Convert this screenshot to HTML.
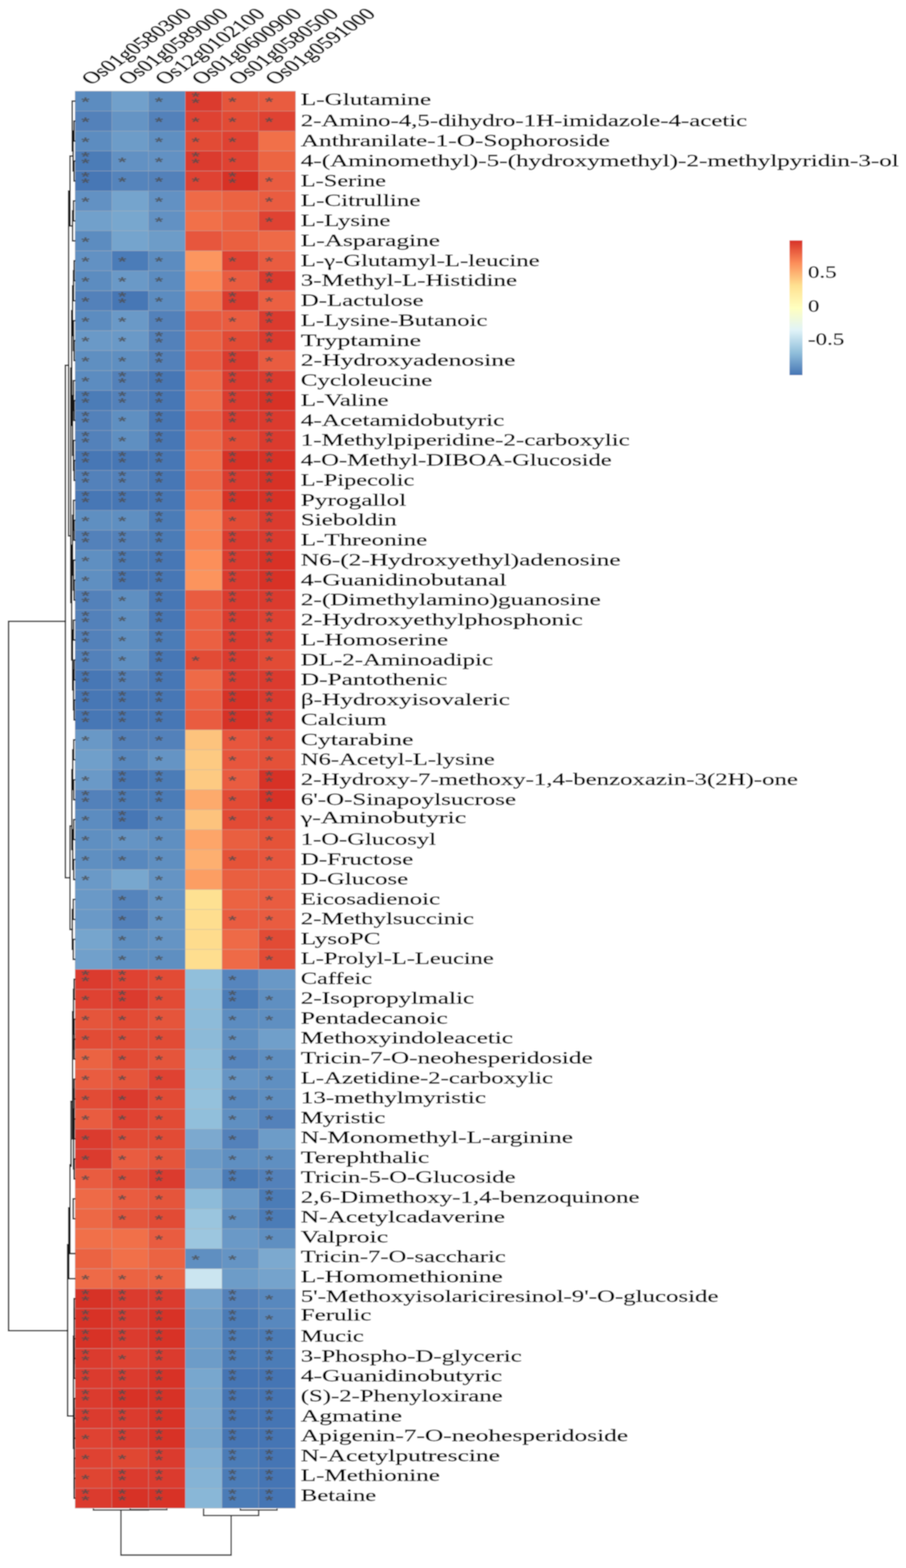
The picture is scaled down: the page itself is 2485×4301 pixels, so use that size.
<!DOCTYPE html>
<html lang="en"><head><meta charset="utf-8"><title>Correlation heatmap</title>
<style>html,body{margin:0;padding:0;background:#fff;width:2485px;height:4301px}svg{display:block}text{font-family:"Liberation Serif",serif;fill:#000;stroke:#000;stroke-width:0.8px}.st text{font-family:"Liberation Sans",sans-serif;font-weight:bold;fill:#4d4d4d;stroke:none;text-anchor:middle}.cl text{stroke-width:1.3px}.d{stroke:#303030;stroke-width:3.8;fill:none;stroke-linecap:square}</style></head><body>
<svg width="2485" height="4301" viewBox="0 0 2485 4301">
<rect width="2485" height="4301" fill="#fff"/>
<defs><filter id="bl" x="0" y="0" width="2485" height="4301" filterUnits="userSpaceOnUse"><feGaussianBlur stdDeviation="1.6"/></filter></defs>
<g filter="url(#bl)">
<rect width="2485" height="4301" fill="#fff"/>
<g shape-rendering="crispEdges">
<rect x="205.8" y="250.0" width="101.0" height="55.0" fill="#5c8cc0"/>
<rect x="306.6" y="250.0" width="101.0" height="55.0" fill="#71a0cb"/>
<rect x="407.3" y="250.0" width="101.0" height="55.0" fill="#5c8cc0"/>
<rect x="508.1" y="250.0" width="101.0" height="55.0" fill="#db3b2d"/>
<rect x="608.8" y="250.0" width="101.0" height="55.0" fill="#e5543a"/>
<rect x="709.5" y="250.0" width="101.0" height="55.0" fill="#e95c3f"/>
<rect x="205.8" y="304.7" width="101.0" height="55.0" fill="#5281ba"/>
<rect x="306.6" y="304.7" width="101.0" height="55.0" fill="#6594c4"/>
<rect x="407.3" y="304.7" width="101.0" height="55.0" fill="#5281ba"/>
<rect x="508.1" y="304.7" width="101.0" height="55.0" fill="#df4331"/>
<rect x="608.8" y="304.7" width="101.0" height="55.0" fill="#e24c36"/>
<rect x="709.5" y="304.7" width="101.0" height="55.0" fill="#df4331"/>
<rect x="205.8" y="359.5" width="101.0" height="55.0" fill="#5c8cc0"/>
<rect x="306.6" y="359.5" width="101.0" height="55.0" fill="#6d9cc8"/>
<rect x="407.3" y="359.5" width="101.0" height="55.0" fill="#5f8fc1"/>
<rect x="508.1" y="359.5" width="101.0" height="55.0" fill="#e24c36"/>
<rect x="608.8" y="359.5" width="101.0" height="55.0" fill="#df4331"/>
<rect x="709.5" y="359.5" width="101.0" height="55.0" fill="#f1704a"/>
<rect x="205.8" y="414.2" width="101.0" height="55.0" fill="#4b7bb7"/>
<rect x="306.6" y="414.2" width="101.0" height="55.0" fill="#6291c3"/>
<rect x="407.3" y="414.2" width="101.0" height="55.0" fill="#6291c3"/>
<rect x="508.1" y="414.2" width="101.0" height="55.0" fill="#db3b2d"/>
<rect x="608.8" y="414.2" width="101.0" height="55.0" fill="#df4331"/>
<rect x="709.5" y="414.2" width="101.0" height="55.0" fill="#ec6543"/>
<rect x="205.8" y="469.0" width="101.0" height="55.0" fill="#4777b5"/>
<rect x="306.6" y="469.0" width="101.0" height="55.0" fill="#5484bc"/>
<rect x="407.3" y="469.0" width="101.0" height="55.0" fill="#5281ba"/>
<rect x="508.1" y="469.0" width="101.0" height="55.0" fill="#df4331"/>
<rect x="608.8" y="469.0" width="101.0" height="55.0" fill="#d83328"/>
<rect x="709.5" y="469.0" width="101.0" height="55.0" fill="#e95c3f"/>
<rect x="205.8" y="523.7" width="101.0" height="55.0" fill="#6291c3"/>
<rect x="306.6" y="523.7" width="101.0" height="55.0" fill="#75a4cd"/>
<rect x="407.3" y="523.7" width="101.0" height="55.0" fill="#6291c3"/>
<rect x="508.1" y="523.7" width="101.0" height="55.0" fill="#ee6a46"/>
<rect x="608.8" y="523.7" width="101.0" height="55.0" fill="#eb6342"/>
<rect x="709.5" y="523.7" width="101.0" height="55.0" fill="#e95c3f"/>
<rect x="205.8" y="578.5" width="101.0" height="55.0" fill="#71a0cb"/>
<rect x="306.6" y="578.5" width="101.0" height="55.0" fill="#78a7ce"/>
<rect x="407.3" y="578.5" width="101.0" height="55.0" fill="#6291c3"/>
<rect x="508.1" y="578.5" width="101.0" height="55.0" fill="#f1704a"/>
<rect x="608.8" y="578.5" width="101.0" height="55.0" fill="#eb6342"/>
<rect x="709.5" y="578.5" width="101.0" height="55.0" fill="#df4331"/>
<rect x="205.8" y="633.2" width="101.0" height="55.0" fill="#5c8cc0"/>
<rect x="306.6" y="633.2" width="101.0" height="55.0" fill="#75a4cd"/>
<rect x="407.3" y="633.2" width="101.0" height="55.0" fill="#6d9cc8"/>
<rect x="508.1" y="633.2" width="101.0" height="55.0" fill="#e7573c"/>
<rect x="608.8" y="633.2" width="101.0" height="55.0" fill="#ea6041"/>
<rect x="709.5" y="633.2" width="101.0" height="55.0" fill="#ee6a46"/>
<rect x="205.8" y="688.0" width="101.0" height="55.0" fill="#6291c3"/>
<rect x="306.6" y="688.0" width="101.0" height="55.0" fill="#4c7cb8"/>
<rect x="407.3" y="688.0" width="101.0" height="55.0" fill="#5c8cc0"/>
<rect x="508.1" y="688.0" width="101.0" height="55.0" fill="#fc965f"/>
<rect x="608.8" y="688.0" width="101.0" height="55.0" fill="#df4331"/>
<rect x="709.5" y="688.0" width="101.0" height="55.0" fill="#e95c3f"/>
<rect x="205.8" y="742.7" width="101.0" height="55.0" fill="#5c8cc0"/>
<rect x="306.6" y="742.7" width="101.0" height="55.0" fill="#6a99c7"/>
<rect x="407.3" y="742.7" width="101.0" height="55.0" fill="#5c8cc0"/>
<rect x="508.1" y="742.7" width="101.0" height="55.0" fill="#fa8957"/>
<rect x="608.8" y="742.7" width="101.0" height="55.0" fill="#e95c3f"/>
<rect x="709.5" y="742.7" width="101.0" height="55.0" fill="#db3b2d"/>
<rect x="205.8" y="797.5" width="101.0" height="55.0" fill="#5281ba"/>
<rect x="306.6" y="797.5" width="101.0" height="55.0" fill="#4777b5"/>
<rect x="407.3" y="797.5" width="101.0" height="55.0" fill="#5c8cc0"/>
<rect x="508.1" y="797.5" width="101.0" height="55.0" fill="#f2744b"/>
<rect x="608.8" y="797.5" width="101.0" height="55.0" fill="#db3b2d"/>
<rect x="709.5" y="797.5" width="101.0" height="55.0" fill="#eb6142"/>
<rect x="205.8" y="852.2" width="101.0" height="55.0" fill="#5c8cc0"/>
<rect x="306.6" y="852.2" width="101.0" height="55.0" fill="#6a99c7"/>
<rect x="407.3" y="852.2" width="101.0" height="55.0" fill="#5281ba"/>
<rect x="508.1" y="852.2" width="101.0" height="55.0" fill="#e95c3f"/>
<rect x="608.8" y="852.2" width="101.0" height="55.0" fill="#e95c3f"/>
<rect x="709.5" y="852.2" width="101.0" height="55.0" fill="#db3b2d"/>
<rect x="205.8" y="907.0" width="101.0" height="55.0" fill="#6a99c7"/>
<rect x="306.6" y="907.0" width="101.0" height="55.0" fill="#6a99c7"/>
<rect x="407.3" y="907.0" width="101.0" height="55.0" fill="#5281ba"/>
<rect x="508.1" y="907.0" width="101.0" height="55.0" fill="#eb6342"/>
<rect x="608.8" y="907.0" width="101.0" height="55.0" fill="#e24c36"/>
<rect x="709.5" y="907.0" width="101.0" height="55.0" fill="#db3b2d"/>
<rect x="205.8" y="961.7" width="101.0" height="55.0" fill="#5f8fc1"/>
<rect x="306.6" y="961.7" width="101.0" height="55.0" fill="#5f8fc1"/>
<rect x="407.3" y="961.7" width="101.0" height="55.0" fill="#5281ba"/>
<rect x="508.1" y="961.7" width="101.0" height="55.0" fill="#e95c3f"/>
<rect x="608.8" y="961.7" width="101.0" height="55.0" fill="#db3b2d"/>
<rect x="709.5" y="961.7" width="101.0" height="55.0" fill="#e95c3f"/>
<rect x="205.8" y="1016.5" width="101.0" height="55.0" fill="#5c8cc0"/>
<rect x="306.6" y="1016.5" width="101.0" height="55.0" fill="#5281ba"/>
<rect x="407.3" y="1016.5" width="101.0" height="55.0" fill="#4777b5"/>
<rect x="508.1" y="1016.5" width="101.0" height="55.0" fill="#ee6a46"/>
<rect x="608.8" y="1016.5" width="101.0" height="55.0" fill="#db3b2d"/>
<rect x="709.5" y="1016.5" width="101.0" height="55.0" fill="#db3b2d"/>
<rect x="205.8" y="1071.2" width="101.0" height="55.0" fill="#4b7bb7"/>
<rect x="306.6" y="1071.2" width="101.0" height="55.0" fill="#5281ba"/>
<rect x="407.3" y="1071.2" width="101.0" height="55.0" fill="#4777b5"/>
<rect x="508.1" y="1071.2" width="101.0" height="55.0" fill="#ef6d48"/>
<rect x="608.8" y="1071.2" width="101.0" height="55.0" fill="#db3b2d"/>
<rect x="709.5" y="1071.2" width="101.0" height="55.0" fill="#d73027"/>
<rect x="205.8" y="1125.9" width="101.0" height="55.0" fill="#5281ba"/>
<rect x="306.6" y="1125.9" width="101.0" height="55.0" fill="#5f8fc1"/>
<rect x="407.3" y="1125.9" width="101.0" height="55.0" fill="#4777b5"/>
<rect x="508.1" y="1125.9" width="101.0" height="55.0" fill="#eb6142"/>
<rect x="608.8" y="1125.9" width="101.0" height="55.0" fill="#db3b2d"/>
<rect x="709.5" y="1125.9" width="101.0" height="55.0" fill="#db3b2d"/>
<rect x="205.8" y="1180.7" width="101.0" height="55.0" fill="#5281ba"/>
<rect x="306.6" y="1180.7" width="101.0" height="55.0" fill="#5f8fc1"/>
<rect x="407.3" y="1180.7" width="101.0" height="55.0" fill="#4777b5"/>
<rect x="508.1" y="1180.7" width="101.0" height="55.0" fill="#ee6a46"/>
<rect x="608.8" y="1180.7" width="101.0" height="55.0" fill="#e24c36"/>
<rect x="709.5" y="1180.7" width="101.0" height="55.0" fill="#db3b2d"/>
<rect x="205.8" y="1235.4" width="101.0" height="55.0" fill="#4777b5"/>
<rect x="306.6" y="1235.4" width="101.0" height="55.0" fill="#4777b5"/>
<rect x="407.3" y="1235.4" width="101.0" height="55.0" fill="#4777b5"/>
<rect x="508.1" y="1235.4" width="101.0" height="55.0" fill="#f1704a"/>
<rect x="608.8" y="1235.4" width="101.0" height="55.0" fill="#d73027"/>
<rect x="709.5" y="1235.4" width="101.0" height="55.0" fill="#d83328"/>
<rect x="205.8" y="1290.2" width="101.0" height="55.0" fill="#5281ba"/>
<rect x="306.6" y="1290.2" width="101.0" height="55.0" fill="#5281ba"/>
<rect x="407.3" y="1290.2" width="101.0" height="55.0" fill="#4777b5"/>
<rect x="508.1" y="1290.2" width="101.0" height="55.0" fill="#ee6a46"/>
<rect x="608.8" y="1290.2" width="101.0" height="55.0" fill="#db3b2d"/>
<rect x="709.5" y="1290.2" width="101.0" height="55.0" fill="#d73027"/>
<rect x="205.8" y="1344.9" width="101.0" height="55.0" fill="#4777b5"/>
<rect x="306.6" y="1344.9" width="101.0" height="55.0" fill="#4777b5"/>
<rect x="407.3" y="1344.9" width="101.0" height="55.0" fill="#4777b5"/>
<rect x="508.1" y="1344.9" width="101.0" height="55.0" fill="#f3754c"/>
<rect x="608.8" y="1344.9" width="101.0" height="55.0" fill="#d83328"/>
<rect x="709.5" y="1344.9" width="101.0" height="55.0" fill="#d83328"/>
<rect x="205.8" y="1399.7" width="101.0" height="55.0" fill="#5f8fc1"/>
<rect x="306.6" y="1399.7" width="101.0" height="55.0" fill="#5f8fc1"/>
<rect x="407.3" y="1399.7" width="101.0" height="55.0" fill="#4b7bb7"/>
<rect x="508.1" y="1399.7" width="101.0" height="55.0" fill="#f88454"/>
<rect x="608.8" y="1399.7" width="101.0" height="55.0" fill="#e24c36"/>
<rect x="709.5" y="1399.7" width="101.0" height="55.0" fill="#db3b2d"/>
<rect x="205.8" y="1454.4" width="101.0" height="55.0" fill="#5281ba"/>
<rect x="306.6" y="1454.4" width="101.0" height="55.0" fill="#5281ba"/>
<rect x="407.3" y="1454.4" width="101.0" height="55.0" fill="#4b7bb7"/>
<rect x="508.1" y="1454.4" width="101.0" height="55.0" fill="#f88253"/>
<rect x="608.8" y="1454.4" width="101.0" height="55.0" fill="#db3b2d"/>
<rect x="709.5" y="1454.4" width="101.0" height="55.0" fill="#db3b2d"/>
<rect x="205.8" y="1509.2" width="101.0" height="55.0" fill="#5f8fc1"/>
<rect x="306.6" y="1509.2" width="101.0" height="55.0" fill="#4b7bb7"/>
<rect x="407.3" y="1509.2" width="101.0" height="55.0" fill="#4777b5"/>
<rect x="508.1" y="1509.2" width="101.0" height="55.0" fill="#fc8f5a"/>
<rect x="608.8" y="1509.2" width="101.0" height="55.0" fill="#db3b2d"/>
<rect x="709.5" y="1509.2" width="101.0" height="55.0" fill="#d83328"/>
<rect x="205.8" y="1563.9" width="101.0" height="55.0" fill="#5f8fc1"/>
<rect x="306.6" y="1563.9" width="101.0" height="55.0" fill="#4777b5"/>
<rect x="407.3" y="1563.9" width="101.0" height="55.0" fill="#4777b5"/>
<rect x="508.1" y="1563.9" width="101.0" height="55.0" fill="#fc945d"/>
<rect x="608.8" y="1563.9" width="101.0" height="55.0" fill="#db3b2d"/>
<rect x="709.5" y="1563.9" width="101.0" height="55.0" fill="#d83328"/>
<rect x="205.8" y="1618.7" width="101.0" height="55.0" fill="#5281ba"/>
<rect x="306.6" y="1618.7" width="101.0" height="55.0" fill="#5f8fc1"/>
<rect x="407.3" y="1618.7" width="101.0" height="55.0" fill="#4777b5"/>
<rect x="508.1" y="1618.7" width="101.0" height="55.0" fill="#e95c3f"/>
<rect x="608.8" y="1618.7" width="101.0" height="55.0" fill="#db3b2d"/>
<rect x="709.5" y="1618.7" width="101.0" height="55.0" fill="#db3b2d"/>
<rect x="205.8" y="1673.4" width="101.0" height="55.0" fill="#5281ba"/>
<rect x="306.6" y="1673.4" width="101.0" height="55.0" fill="#5f8fc1"/>
<rect x="407.3" y="1673.4" width="101.0" height="55.0" fill="#4777b5"/>
<rect x="508.1" y="1673.4" width="101.0" height="55.0" fill="#eb6142"/>
<rect x="608.8" y="1673.4" width="101.0" height="55.0" fill="#db3b2d"/>
<rect x="709.5" y="1673.4" width="101.0" height="55.0" fill="#df4331"/>
<rect x="205.8" y="1728.2" width="101.0" height="55.0" fill="#5281ba"/>
<rect x="306.6" y="1728.2" width="101.0" height="55.0" fill="#5f8fc1"/>
<rect x="407.3" y="1728.2" width="101.0" height="55.0" fill="#4b7bb7"/>
<rect x="508.1" y="1728.2" width="101.0" height="55.0" fill="#eb6142"/>
<rect x="608.8" y="1728.2" width="101.0" height="55.0" fill="#db3b2d"/>
<rect x="709.5" y="1728.2" width="101.0" height="55.0" fill="#df4331"/>
<rect x="205.8" y="1782.9" width="101.0" height="55.0" fill="#5281ba"/>
<rect x="306.6" y="1782.9" width="101.0" height="55.0" fill="#5f8fc1"/>
<rect x="407.3" y="1782.9" width="101.0" height="55.0" fill="#4777b5"/>
<rect x="508.1" y="1782.9" width="101.0" height="55.0" fill="#e24c36"/>
<rect x="608.8" y="1782.9" width="101.0" height="55.0" fill="#db3b2d"/>
<rect x="709.5" y="1782.9" width="101.0" height="55.0" fill="#e24c36"/>
<rect x="205.8" y="1837.6" width="101.0" height="55.0" fill="#4777b5"/>
<rect x="306.6" y="1837.6" width="101.0" height="55.0" fill="#5281ba"/>
<rect x="407.3" y="1837.6" width="101.0" height="55.0" fill="#4777b5"/>
<rect x="508.1" y="1837.6" width="101.0" height="55.0" fill="#ee6a46"/>
<rect x="608.8" y="1837.6" width="101.0" height="55.0" fill="#db3b2d"/>
<rect x="709.5" y="1837.6" width="101.0" height="55.0" fill="#db3b2d"/>
<rect x="205.8" y="1892.4" width="101.0" height="55.0" fill="#4777b5"/>
<rect x="306.6" y="1892.4" width="101.0" height="55.0" fill="#4777b5"/>
<rect x="407.3" y="1892.4" width="101.0" height="55.0" fill="#4777b5"/>
<rect x="508.1" y="1892.4" width="101.0" height="55.0" fill="#eb6142"/>
<rect x="608.8" y="1892.4" width="101.0" height="55.0" fill="#d73027"/>
<rect x="709.5" y="1892.4" width="101.0" height="55.0" fill="#db3b2d"/>
<rect x="205.8" y="1947.1" width="101.0" height="55.0" fill="#4777b5"/>
<rect x="306.6" y="1947.1" width="101.0" height="55.0" fill="#4777b5"/>
<rect x="407.3" y="1947.1" width="101.0" height="55.0" fill="#4777b5"/>
<rect x="508.1" y="1947.1" width="101.0" height="55.0" fill="#e95c3f"/>
<rect x="608.8" y="1947.1" width="101.0" height="55.0" fill="#d73027"/>
<rect x="709.5" y="1947.1" width="101.0" height="55.0" fill="#db3b2d"/>
<rect x="205.8" y="2001.9" width="101.0" height="55.0" fill="#6998c6"/>
<rect x="306.6" y="2001.9" width="101.0" height="55.0" fill="#5281ba"/>
<rect x="407.3" y="2001.9" width="101.0" height="55.0" fill="#5281ba"/>
<rect x="508.1" y="2001.9" width="101.0" height="55.0" fill="#fdc37d"/>
<rect x="608.8" y="2001.9" width="101.0" height="55.0" fill="#e7573c"/>
<rect x="709.5" y="2001.9" width="101.0" height="55.0" fill="#e14834"/>
<rect x="205.8" y="2056.6" width="101.0" height="55.0" fill="#709fca"/>
<rect x="306.6" y="2056.6" width="101.0" height="55.0" fill="#5888be"/>
<rect x="407.3" y="2056.6" width="101.0" height="55.0" fill="#6594c4"/>
<rect x="508.1" y="2056.6" width="101.0" height="55.0" fill="#fdca82"/>
<rect x="608.8" y="2056.6" width="101.0" height="55.0" fill="#e7573c"/>
<rect x="709.5" y="2056.6" width="101.0" height="55.0" fill="#e45139"/>
<rect x="205.8" y="2111.4" width="101.0" height="55.0" fill="#6a99c7"/>
<rect x="306.6" y="2111.4" width="101.0" height="55.0" fill="#4777b5"/>
<rect x="407.3" y="2111.4" width="101.0" height="55.0" fill="#4b7bb7"/>
<rect x="508.1" y="2111.4" width="101.0" height="55.0" fill="#fdca82"/>
<rect x="608.8" y="2111.4" width="101.0" height="55.0" fill="#e95c3f"/>
<rect x="709.5" y="2111.4" width="101.0" height="55.0" fill="#d73027"/>
<rect x="205.8" y="2166.1" width="101.0" height="55.0" fill="#5281ba"/>
<rect x="306.6" y="2166.1" width="101.0" height="55.0" fill="#4b7bb7"/>
<rect x="407.3" y="2166.1" width="101.0" height="55.0" fill="#4b7bb7"/>
<rect x="508.1" y="2166.1" width="101.0" height="55.0" fill="#fdaa6c"/>
<rect x="608.8" y="2166.1" width="101.0" height="55.0" fill="#e24c36"/>
<rect x="709.5" y="2166.1" width="101.0" height="55.0" fill="#d83328"/>
<rect x="205.8" y="2220.9" width="101.0" height="55.0" fill="#5c8cc0"/>
<rect x="306.6" y="2220.9" width="101.0" height="55.0" fill="#4777b5"/>
<rect x="407.3" y="2220.9" width="101.0" height="55.0" fill="#5888be"/>
<rect x="508.1" y="2220.9" width="101.0" height="55.0" fill="#fdc37d"/>
<rect x="608.8" y="2220.9" width="101.0" height="55.0" fill="#e24c36"/>
<rect x="709.5" y="2220.9" width="101.0" height="55.0" fill="#e14834"/>
<rect x="205.8" y="2275.6" width="101.0" height="55.0" fill="#5f8fc1"/>
<rect x="306.6" y="2275.6" width="101.0" height="55.0" fill="#6594c4"/>
<rect x="407.3" y="2275.6" width="101.0" height="55.0" fill="#5f8fc1"/>
<rect x="508.1" y="2275.6" width="101.0" height="55.0" fill="#fda569"/>
<rect x="608.8" y="2275.6" width="101.0" height="55.0" fill="#e95e40"/>
<rect x="709.5" y="2275.6" width="101.0" height="55.0" fill="#e55239"/>
<rect x="205.8" y="2330.4" width="101.0" height="55.0" fill="#5f8fc1"/>
<rect x="306.6" y="2330.4" width="101.0" height="55.0" fill="#5888be"/>
<rect x="407.3" y="2330.4" width="101.0" height="55.0" fill="#5f8fc1"/>
<rect x="508.1" y="2330.4" width="101.0" height="55.0" fill="#fdaf70"/>
<rect x="608.8" y="2330.4" width="101.0" height="55.0" fill="#e55239"/>
<rect x="709.5" y="2330.4" width="101.0" height="55.0" fill="#e7573c"/>
<rect x="205.8" y="2385.1" width="101.0" height="55.0" fill="#6a99c7"/>
<rect x="306.6" y="2385.1" width="101.0" height="55.0" fill="#78a7ce"/>
<rect x="407.3" y="2385.1" width="101.0" height="55.0" fill="#6594c4"/>
<rect x="508.1" y="2385.1" width="101.0" height="55.0" fill="#fc9e64"/>
<rect x="608.8" y="2385.1" width="101.0" height="55.0" fill="#e95e40"/>
<rect x="709.5" y="2385.1" width="101.0" height="55.0" fill="#e95c3f"/>
<rect x="205.8" y="2439.9" width="101.0" height="55.0" fill="#6a99c7"/>
<rect x="306.6" y="2439.9" width="101.0" height="55.0" fill="#5484bc"/>
<rect x="407.3" y="2439.9" width="101.0" height="55.0" fill="#6594c4"/>
<rect x="508.1" y="2439.9" width="101.0" height="55.0" fill="#fee192"/>
<rect x="608.8" y="2439.9" width="101.0" height="55.0" fill="#eb6342"/>
<rect x="709.5" y="2439.9" width="101.0" height="55.0" fill="#e95c3f"/>
<rect x="205.8" y="2494.6" width="101.0" height="55.0" fill="#6a99c7"/>
<rect x="306.6" y="2494.6" width="101.0" height="55.0" fill="#5281ba"/>
<rect x="407.3" y="2494.6" width="101.0" height="55.0" fill="#6594c4"/>
<rect x="508.1" y="2494.6" width="101.0" height="55.0" fill="#fede8f"/>
<rect x="608.8" y="2494.6" width="101.0" height="55.0" fill="#e95c3f"/>
<rect x="709.5" y="2494.6" width="101.0" height="55.0" fill="#e95c3f"/>
<rect x="205.8" y="2549.4" width="101.0" height="55.0" fill="#76a5cd"/>
<rect x="306.6" y="2549.4" width="101.0" height="55.0" fill="#5f8fc1"/>
<rect x="407.3" y="2549.4" width="101.0" height="55.0" fill="#6594c4"/>
<rect x="508.1" y="2549.4" width="101.0" height="55.0" fill="#fedc8d"/>
<rect x="608.8" y="2549.4" width="101.0" height="55.0" fill="#ee6a46"/>
<rect x="709.5" y="2549.4" width="101.0" height="55.0" fill="#e24c36"/>
<rect x="205.8" y="2604.1" width="101.0" height="55.0" fill="#71a0cb"/>
<rect x="306.6" y="2604.1" width="101.0" height="55.0" fill="#5f8fc1"/>
<rect x="407.3" y="2604.1" width="101.0" height="55.0" fill="#5f8fc1"/>
<rect x="508.1" y="2604.1" width="101.0" height="55.0" fill="#fede8f"/>
<rect x="608.8" y="2604.1" width="101.0" height="55.0" fill="#ee6a46"/>
<rect x="709.5" y="2604.1" width="101.0" height="55.0" fill="#e24c36"/>
<rect x="205.8" y="2658.8" width="101.0" height="55.0" fill="#db3b2d"/>
<rect x="306.6" y="2658.8" width="101.0" height="55.0" fill="#df4331"/>
<rect x="407.3" y="2658.8" width="101.0" height="55.0" fill="#e24c36"/>
<rect x="508.1" y="2658.8" width="101.0" height="55.0" fill="#91bfdb"/>
<rect x="608.8" y="2658.8" width="101.0" height="55.0" fill="#5685bd"/>
<rect x="709.5" y="2658.8" width="101.0" height="55.0" fill="#6998c6"/>
<rect x="205.8" y="2713.6" width="101.0" height="55.0" fill="#df4331"/>
<rect x="306.6" y="2713.6" width="101.0" height="55.0" fill="#db3b2d"/>
<rect x="407.3" y="2713.6" width="101.0" height="55.0" fill="#e24c36"/>
<rect x="508.1" y="2713.6" width="101.0" height="55.0" fill="#8ebcda"/>
<rect x="608.8" y="2713.6" width="101.0" height="55.0" fill="#4b7bb7"/>
<rect x="709.5" y="2713.6" width="101.0" height="55.0" fill="#5f8fc1"/>
<rect x="205.8" y="2768.3" width="101.0" height="55.0" fill="#e5543a"/>
<rect x="306.6" y="2768.3" width="101.0" height="55.0" fill="#e24c36"/>
<rect x="407.3" y="2768.3" width="101.0" height="55.0" fill="#e5543a"/>
<rect x="508.1" y="2768.3" width="101.0" height="55.0" fill="#8dbbd9"/>
<rect x="608.8" y="2768.3" width="101.0" height="55.0" fill="#5c8cc0"/>
<rect x="709.5" y="2768.3" width="101.0" height="55.0" fill="#5f8fc1"/>
<rect x="205.8" y="2823.1" width="101.0" height="55.0" fill="#e24c36"/>
<rect x="306.6" y="2823.1" width="101.0" height="55.0" fill="#e24c36"/>
<rect x="407.3" y="2823.1" width="101.0" height="55.0" fill="#e24c36"/>
<rect x="508.1" y="2823.1" width="101.0" height="55.0" fill="#8cbad8"/>
<rect x="608.8" y="2823.1" width="101.0" height="55.0" fill="#5f8fc1"/>
<rect x="709.5" y="2823.1" width="101.0" height="55.0" fill="#709fca"/>
<rect x="205.8" y="2877.8" width="101.0" height="55.0" fill="#eb6342"/>
<rect x="306.6" y="2877.8" width="101.0" height="55.0" fill="#e24c36"/>
<rect x="407.3" y="2877.8" width="101.0" height="55.0" fill="#e5543a"/>
<rect x="508.1" y="2877.8" width="101.0" height="55.0" fill="#90beda"/>
<rect x="608.8" y="2877.8" width="101.0" height="55.0" fill="#5685bd"/>
<rect x="709.5" y="2877.8" width="101.0" height="55.0" fill="#5f8fc1"/>
<rect x="205.8" y="2932.6" width="101.0" height="55.0" fill="#e95c3f"/>
<rect x="306.6" y="2932.6" width="101.0" height="55.0" fill="#e5543a"/>
<rect x="407.3" y="2932.6" width="101.0" height="55.0" fill="#df4331"/>
<rect x="508.1" y="2932.6" width="101.0" height="55.0" fill="#91bfdb"/>
<rect x="608.8" y="2932.6" width="101.0" height="55.0" fill="#6594c4"/>
<rect x="709.5" y="2932.6" width="101.0" height="55.0" fill="#5f8fc1"/>
<rect x="205.8" y="2987.3" width="101.0" height="55.0" fill="#e24c36"/>
<rect x="306.6" y="2987.3" width="101.0" height="55.0" fill="#db3b2d"/>
<rect x="407.3" y="2987.3" width="101.0" height="55.0" fill="#e24c36"/>
<rect x="508.1" y="2987.3" width="101.0" height="55.0" fill="#94c1dc"/>
<rect x="608.8" y="2987.3" width="101.0" height="55.0" fill="#5888be"/>
<rect x="709.5" y="2987.3" width="101.0" height="55.0" fill="#5f8fc1"/>
<rect x="205.8" y="3042.1" width="101.0" height="55.0" fill="#e95c3f"/>
<rect x="306.6" y="3042.1" width="101.0" height="55.0" fill="#df4331"/>
<rect x="407.3" y="3042.1" width="101.0" height="55.0" fill="#e24c36"/>
<rect x="508.1" y="3042.1" width="101.0" height="55.0" fill="#91bfdb"/>
<rect x="608.8" y="3042.1" width="101.0" height="55.0" fill="#5f8fc1"/>
<rect x="709.5" y="3042.1" width="101.0" height="55.0" fill="#5281ba"/>
<rect x="205.8" y="3096.8" width="101.0" height="55.0" fill="#db3b2d"/>
<rect x="306.6" y="3096.8" width="101.0" height="55.0" fill="#e24c36"/>
<rect x="407.3" y="3096.8" width="101.0" height="55.0" fill="#e24c36"/>
<rect x="508.1" y="3096.8" width="101.0" height="55.0" fill="#7ba9cf"/>
<rect x="608.8" y="3096.8" width="101.0" height="55.0" fill="#5281ba"/>
<rect x="709.5" y="3096.8" width="101.0" height="55.0" fill="#6d9cc8"/>
<rect x="205.8" y="3151.6" width="101.0" height="55.0" fill="#db3b2d"/>
<rect x="306.6" y="3151.6" width="101.0" height="55.0" fill="#e95c3f"/>
<rect x="407.3" y="3151.6" width="101.0" height="55.0" fill="#e5543a"/>
<rect x="508.1" y="3151.6" width="101.0" height="55.0" fill="#6d9cc8"/>
<rect x="608.8" y="3151.6" width="101.0" height="55.0" fill="#5f8fc1"/>
<rect x="709.5" y="3151.6" width="101.0" height="55.0" fill="#5f8fc1"/>
<rect x="205.8" y="3206.3" width="101.0" height="55.0" fill="#e95c3f"/>
<rect x="306.6" y="3206.3" width="101.0" height="55.0" fill="#e24c36"/>
<rect x="407.3" y="3206.3" width="101.0" height="55.0" fill="#db3b2d"/>
<rect x="508.1" y="3206.3" width="101.0" height="55.0" fill="#74a3cc"/>
<rect x="608.8" y="3206.3" width="101.0" height="55.0" fill="#4b7bb7"/>
<rect x="709.5" y="3206.3" width="101.0" height="55.0" fill="#5281ba"/>
<rect x="205.8" y="3261.1" width="101.0" height="55.0" fill="#ee6a46"/>
<rect x="306.6" y="3261.1" width="101.0" height="55.0" fill="#e95c3f"/>
<rect x="407.3" y="3261.1" width="101.0" height="55.0" fill="#e5543a"/>
<rect x="508.1" y="3261.1" width="101.0" height="55.0" fill="#8dbbd9"/>
<rect x="608.8" y="3261.1" width="101.0" height="55.0" fill="#6998c6"/>
<rect x="709.5" y="3261.1" width="101.0" height="55.0" fill="#4b7bb7"/>
<rect x="205.8" y="3315.8" width="101.0" height="55.0" fill="#ed6845"/>
<rect x="306.6" y="3315.8" width="101.0" height="55.0" fill="#e5543a"/>
<rect x="407.3" y="3315.8" width="101.0" height="55.0" fill="#e24c36"/>
<rect x="508.1" y="3315.8" width="101.0" height="55.0" fill="#9ac5de"/>
<rect x="608.8" y="3315.8" width="101.0" height="55.0" fill="#5f8fc1"/>
<rect x="709.5" y="3315.8" width="101.0" height="55.0" fill="#4b7bb7"/>
<rect x="205.8" y="3370.5" width="101.0" height="55.0" fill="#f1704a"/>
<rect x="306.6" y="3370.5" width="101.0" height="55.0" fill="#f1704a"/>
<rect x="407.3" y="3370.5" width="101.0" height="55.0" fill="#e95c3f"/>
<rect x="508.1" y="3370.5" width="101.0" height="55.0" fill="#9cc6df"/>
<rect x="608.8" y="3370.5" width="101.0" height="55.0" fill="#6a99c7"/>
<rect x="709.5" y="3370.5" width="101.0" height="55.0" fill="#5f8fc1"/>
<rect x="205.8" y="3425.3" width="101.0" height="55.0" fill="#eb6342"/>
<rect x="306.6" y="3425.3" width="101.0" height="55.0" fill="#f1704a"/>
<rect x="407.3" y="3425.3" width="101.0" height="55.0" fill="#eb6342"/>
<rect x="508.1" y="3425.3" width="101.0" height="55.0" fill="#5f8fc1"/>
<rect x="608.8" y="3425.3" width="101.0" height="55.0" fill="#6594c4"/>
<rect x="709.5" y="3425.3" width="101.0" height="55.0" fill="#7ba9cf"/>
<rect x="205.8" y="3480.0" width="101.0" height="55.0" fill="#ee6a46"/>
<rect x="306.6" y="3480.0" width="101.0" height="55.0" fill="#eb6342"/>
<rect x="407.3" y="3480.0" width="101.0" height="55.0" fill="#eb6342"/>
<rect x="508.1" y="3480.0" width="101.0" height="55.0" fill="#cbe5f0"/>
<rect x="608.8" y="3480.0" width="101.0" height="55.0" fill="#6d9cc8"/>
<rect x="709.5" y="3480.0" width="101.0" height="55.0" fill="#74a3cc"/>
<rect x="205.8" y="3534.8" width="101.0" height="55.0" fill="#d73027"/>
<rect x="306.6" y="3534.8" width="101.0" height="55.0" fill="#db3b2d"/>
<rect x="407.3" y="3534.8" width="101.0" height="55.0" fill="#db3b2d"/>
<rect x="508.1" y="3534.8" width="101.0" height="55.0" fill="#74a3cc"/>
<rect x="608.8" y="3534.8" width="101.0" height="55.0" fill="#5281ba"/>
<rect x="709.5" y="3534.8" width="101.0" height="55.0" fill="#5888be"/>
<rect x="205.8" y="3589.5" width="101.0" height="55.0" fill="#d83328"/>
<rect x="306.6" y="3589.5" width="101.0" height="55.0" fill="#db3b2d"/>
<rect x="407.3" y="3589.5" width="101.0" height="55.0" fill="#d83328"/>
<rect x="508.1" y="3589.5" width="101.0" height="55.0" fill="#6d9cc8"/>
<rect x="608.8" y="3589.5" width="101.0" height="55.0" fill="#4b7bb7"/>
<rect x="709.5" y="3589.5" width="101.0" height="55.0" fill="#5888be"/>
<rect x="205.8" y="3644.3" width="101.0" height="55.0" fill="#d83328"/>
<rect x="306.6" y="3644.3" width="101.0" height="55.0" fill="#db3b2d"/>
<rect x="407.3" y="3644.3" width="101.0" height="55.0" fill="#d83328"/>
<rect x="508.1" y="3644.3" width="101.0" height="55.0" fill="#6d9cc8"/>
<rect x="608.8" y="3644.3" width="101.0" height="55.0" fill="#4b7bb7"/>
<rect x="709.5" y="3644.3" width="101.0" height="55.0" fill="#4b7bb7"/>
<rect x="205.8" y="3699.0" width="101.0" height="55.0" fill="#db3b2d"/>
<rect x="306.6" y="3699.0" width="101.0" height="55.0" fill="#df4331"/>
<rect x="407.3" y="3699.0" width="101.0" height="55.0" fill="#db3b2d"/>
<rect x="508.1" y="3699.0" width="101.0" height="55.0" fill="#6d9cc8"/>
<rect x="608.8" y="3699.0" width="101.0" height="55.0" fill="#4b7bb7"/>
<rect x="709.5" y="3699.0" width="101.0" height="55.0" fill="#4b7bb7"/>
<rect x="205.8" y="3753.8" width="101.0" height="55.0" fill="#db3b2d"/>
<rect x="306.6" y="3753.8" width="101.0" height="55.0" fill="#db3b2d"/>
<rect x="407.3" y="3753.8" width="101.0" height="55.0" fill="#d83328"/>
<rect x="508.1" y="3753.8" width="101.0" height="55.0" fill="#78a7ce"/>
<rect x="608.8" y="3753.8" width="101.0" height="55.0" fill="#4575b4"/>
<rect x="709.5" y="3753.8" width="101.0" height="55.0" fill="#4575b4"/>
<rect x="205.8" y="3808.5" width="101.0" height="55.0" fill="#db3b2d"/>
<rect x="306.6" y="3808.5" width="101.0" height="55.0" fill="#d83328"/>
<rect x="407.3" y="3808.5" width="101.0" height="55.0" fill="#d73027"/>
<rect x="508.1" y="3808.5" width="101.0" height="55.0" fill="#78a7ce"/>
<rect x="608.8" y="3808.5" width="101.0" height="55.0" fill="#4575b4"/>
<rect x="709.5" y="3808.5" width="101.0" height="55.0" fill="#4575b4"/>
<rect x="205.8" y="3863.3" width="101.0" height="55.0" fill="#db3b2d"/>
<rect x="306.6" y="3863.3" width="101.0" height="55.0" fill="#db3b2d"/>
<rect x="407.3" y="3863.3" width="101.0" height="55.0" fill="#d83328"/>
<rect x="508.1" y="3863.3" width="101.0" height="55.0" fill="#7ba9cf"/>
<rect x="608.8" y="3863.3" width="101.0" height="55.0" fill="#4575b4"/>
<rect x="709.5" y="3863.3" width="101.0" height="55.0" fill="#4575b4"/>
<rect x="205.8" y="3918.0" width="101.0" height="55.0" fill="#df4331"/>
<rect x="306.6" y="3918.0" width="101.0" height="55.0" fill="#db3b2d"/>
<rect x="407.3" y="3918.0" width="101.0" height="55.0" fill="#d83328"/>
<rect x="508.1" y="3918.0" width="101.0" height="55.0" fill="#78a7ce"/>
<rect x="608.8" y="3918.0" width="101.0" height="55.0" fill="#4575b4"/>
<rect x="709.5" y="3918.0" width="101.0" height="55.0" fill="#4575b4"/>
<rect x="205.8" y="3972.8" width="101.0" height="55.0" fill="#df4331"/>
<rect x="306.6" y="3972.8" width="101.0" height="55.0" fill="#e04733"/>
<rect x="407.3" y="3972.8" width="101.0" height="55.0" fill="#db3b2d"/>
<rect x="508.1" y="3972.8" width="101.0" height="55.0" fill="#81afd3"/>
<rect x="608.8" y="3972.8" width="101.0" height="55.0" fill="#4b7bb7"/>
<rect x="709.5" y="3972.8" width="101.0" height="55.0" fill="#4575b4"/>
<rect x="205.8" y="4027.5" width="101.0" height="55.0" fill="#df4532"/>
<rect x="306.6" y="4027.5" width="101.0" height="55.0" fill="#db3b2d"/>
<rect x="407.3" y="4027.5" width="101.0" height="55.0" fill="#db3b2d"/>
<rect x="508.1" y="4027.5" width="101.0" height="55.0" fill="#85b3d5"/>
<rect x="608.8" y="4027.5" width="101.0" height="55.0" fill="#4b7bb7"/>
<rect x="709.5" y="4027.5" width="101.0" height="55.0" fill="#4575b4"/>
<rect x="205.8" y="4082.3" width="101.0" height="55.0" fill="#db3b2d"/>
<rect x="306.6" y="4082.3" width="101.0" height="55.0" fill="#d73027"/>
<rect x="407.3" y="4082.3" width="101.0" height="55.0" fill="#d83328"/>
<rect x="508.1" y="4082.3" width="101.0" height="55.0" fill="#89b7d7"/>
<rect x="608.8" y="4082.3" width="101.0" height="55.0" fill="#4b7bb7"/>
<rect x="709.5" y="4082.3" width="101.0" height="55.0" fill="#4575b4"/>
</g>
<g stroke="#b4b4b4" stroke-width="1.8" opacity="0.5">
<line x1="205.8" y1="250.0" x2="810.3" y2="250.0"/>
<line x1="205.8" y1="304.7" x2="810.3" y2="304.7"/>
<line x1="205.8" y1="359.5" x2="810.3" y2="359.5"/>
<line x1="205.8" y1="414.2" x2="810.3" y2="414.2"/>
<line x1="205.8" y1="469.0" x2="810.3" y2="469.0"/>
<line x1="205.8" y1="523.7" x2="810.3" y2="523.7"/>
<line x1="205.8" y1="578.5" x2="810.3" y2="578.5"/>
<line x1="205.8" y1="633.2" x2="810.3" y2="633.2"/>
<line x1="205.8" y1="688.0" x2="810.3" y2="688.0"/>
<line x1="205.8" y1="742.7" x2="810.3" y2="742.7"/>
<line x1="205.8" y1="797.5" x2="810.3" y2="797.5"/>
<line x1="205.8" y1="852.2" x2="810.3" y2="852.2"/>
<line x1="205.8" y1="907.0" x2="810.3" y2="907.0"/>
<line x1="205.8" y1="961.7" x2="810.3" y2="961.7"/>
<line x1="205.8" y1="1016.5" x2="810.3" y2="1016.5"/>
<line x1="205.8" y1="1071.2" x2="810.3" y2="1071.2"/>
<line x1="205.8" y1="1125.9" x2="810.3" y2="1125.9"/>
<line x1="205.8" y1="1180.7" x2="810.3" y2="1180.7"/>
<line x1="205.8" y1="1235.4" x2="810.3" y2="1235.4"/>
<line x1="205.8" y1="1290.2" x2="810.3" y2="1290.2"/>
<line x1="205.8" y1="1344.9" x2="810.3" y2="1344.9"/>
<line x1="205.8" y1="1399.7" x2="810.3" y2="1399.7"/>
<line x1="205.8" y1="1454.4" x2="810.3" y2="1454.4"/>
<line x1="205.8" y1="1509.2" x2="810.3" y2="1509.2"/>
<line x1="205.8" y1="1563.9" x2="810.3" y2="1563.9"/>
<line x1="205.8" y1="1618.7" x2="810.3" y2="1618.7"/>
<line x1="205.8" y1="1673.4" x2="810.3" y2="1673.4"/>
<line x1="205.8" y1="1728.2" x2="810.3" y2="1728.2"/>
<line x1="205.8" y1="1782.9" x2="810.3" y2="1782.9"/>
<line x1="205.8" y1="1837.6" x2="810.3" y2="1837.6"/>
<line x1="205.8" y1="1892.4" x2="810.3" y2="1892.4"/>
<line x1="205.8" y1="1947.1" x2="810.3" y2="1947.1"/>
<line x1="205.8" y1="2001.9" x2="810.3" y2="2001.9"/>
<line x1="205.8" y1="2056.6" x2="810.3" y2="2056.6"/>
<line x1="205.8" y1="2111.4" x2="810.3" y2="2111.4"/>
<line x1="205.8" y1="2166.1" x2="810.3" y2="2166.1"/>
<line x1="205.8" y1="2220.9" x2="810.3" y2="2220.9"/>
<line x1="205.8" y1="2275.6" x2="810.3" y2="2275.6"/>
<line x1="205.8" y1="2330.4" x2="810.3" y2="2330.4"/>
<line x1="205.8" y1="2385.1" x2="810.3" y2="2385.1"/>
<line x1="205.8" y1="2439.9" x2="810.3" y2="2439.9"/>
<line x1="205.8" y1="2494.6" x2="810.3" y2="2494.6"/>
<line x1="205.8" y1="2549.4" x2="810.3" y2="2549.4"/>
<line x1="205.8" y1="2604.1" x2="810.3" y2="2604.1"/>
<line x1="205.8" y1="2658.8" x2="810.3" y2="2658.8"/>
<line x1="205.8" y1="2713.6" x2="810.3" y2="2713.6"/>
<line x1="205.8" y1="2768.3" x2="810.3" y2="2768.3"/>
<line x1="205.8" y1="2823.1" x2="810.3" y2="2823.1"/>
<line x1="205.8" y1="2877.8" x2="810.3" y2="2877.8"/>
<line x1="205.8" y1="2932.6" x2="810.3" y2="2932.6"/>
<line x1="205.8" y1="2987.3" x2="810.3" y2="2987.3"/>
<line x1="205.8" y1="3042.1" x2="810.3" y2="3042.1"/>
<line x1="205.8" y1="3096.8" x2="810.3" y2="3096.8"/>
<line x1="205.8" y1="3151.6" x2="810.3" y2="3151.6"/>
<line x1="205.8" y1="3206.3" x2="810.3" y2="3206.3"/>
<line x1="205.8" y1="3261.1" x2="810.3" y2="3261.1"/>
<line x1="205.8" y1="3315.8" x2="810.3" y2="3315.8"/>
<line x1="205.8" y1="3370.5" x2="810.3" y2="3370.5"/>
<line x1="205.8" y1="3425.3" x2="810.3" y2="3425.3"/>
<line x1="205.8" y1="3480.0" x2="810.3" y2="3480.0"/>
<line x1="205.8" y1="3534.8" x2="810.3" y2="3534.8"/>
<line x1="205.8" y1="3589.5" x2="810.3" y2="3589.5"/>
<line x1="205.8" y1="3644.3" x2="810.3" y2="3644.3"/>
<line x1="205.8" y1="3699.0" x2="810.3" y2="3699.0"/>
<line x1="205.8" y1="3753.8" x2="810.3" y2="3753.8"/>
<line x1="205.8" y1="3808.5" x2="810.3" y2="3808.5"/>
<line x1="205.8" y1="3863.3" x2="810.3" y2="3863.3"/>
<line x1="205.8" y1="3918.0" x2="810.3" y2="3918.0"/>
<line x1="205.8" y1="3972.8" x2="810.3" y2="3972.8"/>
<line x1="205.8" y1="4027.5" x2="810.3" y2="4027.5"/>
<line x1="205.8" y1="4082.3" x2="810.3" y2="4082.3"/>
<line x1="205.8" y1="4137.0" x2="810.3" y2="4137.0"/>
<line x1="205.8" y1="250.0" x2="205.8" y2="4137.0"/>
<line x1="306.6" y1="250.0" x2="306.6" y2="4137.0"/>
<line x1="407.3" y1="250.0" x2="407.3" y2="4137.0"/>
<line x1="508.1" y1="250.0" x2="508.1" y2="4137.0"/>
<line x1="608.8" y1="250.0" x2="608.8" y2="4137.0"/>
<line x1="709.5" y1="250.0" x2="709.5" y2="4137.0"/>
<line x1="810.3" y1="250.0" x2="810.3" y2="4137.0"/>
</g>
<g class="st" font-size="35" opacity="0.75">
<text transform="translate(234.3,291.3) scale(1.7,1)">*</text>
<text transform="translate(435.8,291.3) scale(1.7,1)">*</text>
<text transform="translate(536.5,277.1) scale(1.7,1)">*</text>
<text transform="translate(536.5,294.3) scale(1.7,1)">*</text>
<text transform="translate(637.3,291.3) scale(1.7,1)">*</text>
<text transform="translate(738.0,291.3) scale(1.7,1)">*</text>
<text transform="translate(234.3,346.1) scale(1.7,1)">*</text>
<text transform="translate(435.8,346.1) scale(1.7,1)">*</text>
<text transform="translate(536.5,346.1) scale(1.7,1)">*</text>
<text transform="translate(637.3,346.1) scale(1.7,1)">*</text>
<text transform="translate(738.0,346.1) scale(1.7,1)">*</text>
<text transform="translate(234.3,400.8) scale(1.7,1)">*</text>
<text transform="translate(435.8,400.8) scale(1.7,1)">*</text>
<text transform="translate(536.5,400.8) scale(1.7,1)">*</text>
<text transform="translate(637.3,400.8) scale(1.7,1)">*</text>
<text transform="translate(234.3,441.4) scale(1.7,1)">*</text>
<text transform="translate(234.3,458.6) scale(1.7,1)">*</text>
<text transform="translate(335.1,455.6) scale(1.7,1)">*</text>
<text transform="translate(435.8,455.6) scale(1.7,1)">*</text>
<text transform="translate(536.5,441.4) scale(1.7,1)">*</text>
<text transform="translate(536.5,458.6) scale(1.7,1)">*</text>
<text transform="translate(637.3,455.6) scale(1.7,1)">*</text>
<text transform="translate(234.3,496.1) scale(1.7,1)">*</text>
<text transform="translate(234.3,513.3) scale(1.7,1)">*</text>
<text transform="translate(335.1,510.3) scale(1.7,1)">*</text>
<text transform="translate(435.8,510.3) scale(1.7,1)">*</text>
<text transform="translate(536.5,510.3) scale(1.7,1)">*</text>
<text transform="translate(637.3,496.1) scale(1.7,1)">*</text>
<text transform="translate(637.3,513.3) scale(1.7,1)">*</text>
<text transform="translate(738.0,510.3) scale(1.7,1)">*</text>
<text transform="translate(234.3,565.1) scale(1.7,1)">*</text>
<text transform="translate(435.8,565.1) scale(1.7,1)">*</text>
<text transform="translate(738.0,565.1) scale(1.7,1)">*</text>
<text transform="translate(435.8,619.8) scale(1.7,1)">*</text>
<text transform="translate(738.0,619.8) scale(1.7,1)">*</text>
<text transform="translate(234.3,674.6) scale(1.7,1)">*</text>
<text transform="translate(234.3,729.3) scale(1.7,1)">*</text>
<text transform="translate(335.1,729.3) scale(1.7,1)">*</text>
<text transform="translate(435.8,729.3) scale(1.7,1)">*</text>
<text transform="translate(637.3,729.3) scale(1.7,1)">*</text>
<text transform="translate(738.0,729.3) scale(1.7,1)">*</text>
<text transform="translate(234.3,784.1) scale(1.7,1)">*</text>
<text transform="translate(335.1,784.1) scale(1.7,1)">*</text>
<text transform="translate(435.8,784.1) scale(1.7,1)">*</text>
<text transform="translate(637.3,784.1) scale(1.7,1)">*</text>
<text transform="translate(738.0,769.9) scale(1.7,1)">*</text>
<text transform="translate(738.0,787.1) scale(1.7,1)">*</text>
<text transform="translate(234.3,838.8) scale(1.7,1)">*</text>
<text transform="translate(335.1,824.6) scale(1.7,1)">*</text>
<text transform="translate(335.1,841.8) scale(1.7,1)">*</text>
<text transform="translate(435.8,838.8) scale(1.7,1)">*</text>
<text transform="translate(637.3,824.6) scale(1.7,1)">*</text>
<text transform="translate(637.3,841.8) scale(1.7,1)">*</text>
<text transform="translate(738.0,838.8) scale(1.7,1)">*</text>
<text transform="translate(234.3,893.5) scale(1.7,1)">*</text>
<text transform="translate(335.1,893.5) scale(1.7,1)">*</text>
<text transform="translate(435.8,893.5) scale(1.7,1)">*</text>
<text transform="translate(637.3,893.5) scale(1.7,1)">*</text>
<text transform="translate(738.0,879.3) scale(1.7,1)">*</text>
<text transform="translate(738.0,896.5) scale(1.7,1)">*</text>
<text transform="translate(234.3,948.3) scale(1.7,1)">*</text>
<text transform="translate(335.1,948.3) scale(1.7,1)">*</text>
<text transform="translate(435.8,934.1) scale(1.7,1)">*</text>
<text transform="translate(435.8,951.3) scale(1.7,1)">*</text>
<text transform="translate(637.3,948.3) scale(1.7,1)">*</text>
<text transform="translate(738.0,934.1) scale(1.7,1)">*</text>
<text transform="translate(738.0,951.3) scale(1.7,1)">*</text>
<text transform="translate(234.3,1003.0) scale(1.7,1)">*</text>
<text transform="translate(335.1,1003.0) scale(1.7,1)">*</text>
<text transform="translate(435.8,988.8) scale(1.7,1)">*</text>
<text transform="translate(435.8,1006.0) scale(1.7,1)">*</text>
<text transform="translate(637.3,988.8) scale(1.7,1)">*</text>
<text transform="translate(637.3,1006.0) scale(1.7,1)">*</text>
<text transform="translate(738.0,1003.0) scale(1.7,1)">*</text>
<text transform="translate(234.3,1057.8) scale(1.7,1)">*</text>
<text transform="translate(335.1,1043.6) scale(1.7,1)">*</text>
<text transform="translate(335.1,1060.8) scale(1.7,1)">*</text>
<text transform="translate(435.8,1043.6) scale(1.7,1)">*</text>
<text transform="translate(435.8,1060.8) scale(1.7,1)">*</text>
<text transform="translate(637.3,1043.6) scale(1.7,1)">*</text>
<text transform="translate(637.3,1060.8) scale(1.7,1)">*</text>
<text transform="translate(738.0,1043.6) scale(1.7,1)">*</text>
<text transform="translate(738.0,1060.8) scale(1.7,1)">*</text>
<text transform="translate(234.3,1098.3) scale(1.7,1)">*</text>
<text transform="translate(234.3,1115.5) scale(1.7,1)">*</text>
<text transform="translate(335.1,1098.3) scale(1.7,1)">*</text>
<text transform="translate(335.1,1115.5) scale(1.7,1)">*</text>
<text transform="translate(435.8,1098.3) scale(1.7,1)">*</text>
<text transform="translate(435.8,1115.5) scale(1.7,1)">*</text>
<text transform="translate(637.3,1098.3) scale(1.7,1)">*</text>
<text transform="translate(637.3,1115.5) scale(1.7,1)">*</text>
<text transform="translate(738.0,1098.3) scale(1.7,1)">*</text>
<text transform="translate(738.0,1115.5) scale(1.7,1)">*</text>
<text transform="translate(234.3,1153.1) scale(1.7,1)">*</text>
<text transform="translate(234.3,1170.3) scale(1.7,1)">*</text>
<text transform="translate(335.1,1167.3) scale(1.7,1)">*</text>
<text transform="translate(435.8,1153.1) scale(1.7,1)">*</text>
<text transform="translate(435.8,1170.3) scale(1.7,1)">*</text>
<text transform="translate(637.3,1153.1) scale(1.7,1)">*</text>
<text transform="translate(637.3,1170.3) scale(1.7,1)">*</text>
<text transform="translate(738.0,1153.1) scale(1.7,1)">*</text>
<text transform="translate(738.0,1170.3) scale(1.7,1)">*</text>
<text transform="translate(234.3,1207.8) scale(1.7,1)">*</text>
<text transform="translate(234.3,1225.0) scale(1.7,1)">*</text>
<text transform="translate(335.1,1222.0) scale(1.7,1)">*</text>
<text transform="translate(435.8,1207.8) scale(1.7,1)">*</text>
<text transform="translate(435.8,1225.0) scale(1.7,1)">*</text>
<text transform="translate(637.3,1222.0) scale(1.7,1)">*</text>
<text transform="translate(738.0,1207.8) scale(1.7,1)">*</text>
<text transform="translate(738.0,1225.0) scale(1.7,1)">*</text>
<text transform="translate(234.3,1262.6) scale(1.7,1)">*</text>
<text transform="translate(234.3,1279.8) scale(1.7,1)">*</text>
<text transform="translate(335.1,1262.6) scale(1.7,1)">*</text>
<text transform="translate(335.1,1279.8) scale(1.7,1)">*</text>
<text transform="translate(435.8,1262.6) scale(1.7,1)">*</text>
<text transform="translate(435.8,1279.8) scale(1.7,1)">*</text>
<text transform="translate(637.3,1262.6) scale(1.7,1)">*</text>
<text transform="translate(637.3,1279.8) scale(1.7,1)">*</text>
<text transform="translate(738.0,1262.6) scale(1.7,1)">*</text>
<text transform="translate(738.0,1279.8) scale(1.7,1)">*</text>
<text transform="translate(234.3,1317.3) scale(1.7,1)">*</text>
<text transform="translate(234.3,1334.5) scale(1.7,1)">*</text>
<text transform="translate(335.1,1317.3) scale(1.7,1)">*</text>
<text transform="translate(335.1,1334.5) scale(1.7,1)">*</text>
<text transform="translate(435.8,1317.3) scale(1.7,1)">*</text>
<text transform="translate(435.8,1334.5) scale(1.7,1)">*</text>
<text transform="translate(637.3,1317.3) scale(1.7,1)">*</text>
<text transform="translate(637.3,1334.5) scale(1.7,1)">*</text>
<text transform="translate(738.0,1317.3) scale(1.7,1)">*</text>
<text transform="translate(738.0,1334.5) scale(1.7,1)">*</text>
<text transform="translate(234.3,1372.1) scale(1.7,1)">*</text>
<text transform="translate(234.3,1389.3) scale(1.7,1)">*</text>
<text transform="translate(335.1,1372.1) scale(1.7,1)">*</text>
<text transform="translate(335.1,1389.3) scale(1.7,1)">*</text>
<text transform="translate(435.8,1372.1) scale(1.7,1)">*</text>
<text transform="translate(435.8,1389.3) scale(1.7,1)">*</text>
<text transform="translate(637.3,1372.1) scale(1.7,1)">*</text>
<text transform="translate(637.3,1389.3) scale(1.7,1)">*</text>
<text transform="translate(738.0,1372.1) scale(1.7,1)">*</text>
<text transform="translate(738.0,1389.3) scale(1.7,1)">*</text>
<text transform="translate(234.3,1441.0) scale(1.7,1)">*</text>
<text transform="translate(335.1,1441.0) scale(1.7,1)">*</text>
<text transform="translate(435.8,1426.8) scale(1.7,1)">*</text>
<text transform="translate(435.8,1444.0) scale(1.7,1)">*</text>
<text transform="translate(637.3,1441.0) scale(1.7,1)">*</text>
<text transform="translate(738.0,1426.8) scale(1.7,1)">*</text>
<text transform="translate(738.0,1444.0) scale(1.7,1)">*</text>
<text transform="translate(234.3,1481.6) scale(1.7,1)">*</text>
<text transform="translate(234.3,1498.8) scale(1.7,1)">*</text>
<text transform="translate(335.1,1481.6) scale(1.7,1)">*</text>
<text transform="translate(335.1,1498.8) scale(1.7,1)">*</text>
<text transform="translate(435.8,1481.6) scale(1.7,1)">*</text>
<text transform="translate(435.8,1498.8) scale(1.7,1)">*</text>
<text transform="translate(637.3,1481.6) scale(1.7,1)">*</text>
<text transform="translate(637.3,1498.8) scale(1.7,1)">*</text>
<text transform="translate(738.0,1481.6) scale(1.7,1)">*</text>
<text transform="translate(738.0,1498.8) scale(1.7,1)">*</text>
<text transform="translate(234.3,1550.5) scale(1.7,1)">*</text>
<text transform="translate(335.1,1536.3) scale(1.7,1)">*</text>
<text transform="translate(335.1,1553.5) scale(1.7,1)">*</text>
<text transform="translate(435.8,1536.3) scale(1.7,1)">*</text>
<text transform="translate(435.8,1553.5) scale(1.7,1)">*</text>
<text transform="translate(637.3,1536.3) scale(1.7,1)">*</text>
<text transform="translate(637.3,1553.5) scale(1.7,1)">*</text>
<text transform="translate(738.0,1536.3) scale(1.7,1)">*</text>
<text transform="translate(738.0,1553.5) scale(1.7,1)">*</text>
<text transform="translate(234.3,1605.3) scale(1.7,1)">*</text>
<text transform="translate(335.1,1591.1) scale(1.7,1)">*</text>
<text transform="translate(335.1,1608.3) scale(1.7,1)">*</text>
<text transform="translate(435.8,1591.1) scale(1.7,1)">*</text>
<text transform="translate(435.8,1608.3) scale(1.7,1)">*</text>
<text transform="translate(637.3,1591.1) scale(1.7,1)">*</text>
<text transform="translate(637.3,1608.3) scale(1.7,1)">*</text>
<text transform="translate(738.0,1591.1) scale(1.7,1)">*</text>
<text transform="translate(738.0,1608.3) scale(1.7,1)">*</text>
<text transform="translate(234.3,1645.8) scale(1.7,1)">*</text>
<text transform="translate(234.3,1663.0) scale(1.7,1)">*</text>
<text transform="translate(335.1,1660.0) scale(1.7,1)">*</text>
<text transform="translate(435.8,1645.8) scale(1.7,1)">*</text>
<text transform="translate(435.8,1663.0) scale(1.7,1)">*</text>
<text transform="translate(637.3,1645.8) scale(1.7,1)">*</text>
<text transform="translate(637.3,1663.0) scale(1.7,1)">*</text>
<text transform="translate(738.0,1645.8) scale(1.7,1)">*</text>
<text transform="translate(738.0,1663.0) scale(1.7,1)">*</text>
<text transform="translate(234.3,1700.5) scale(1.7,1)">*</text>
<text transform="translate(234.3,1717.7) scale(1.7,1)">*</text>
<text transform="translate(335.1,1714.7) scale(1.7,1)">*</text>
<text transform="translate(435.8,1700.5) scale(1.7,1)">*</text>
<text transform="translate(435.8,1717.7) scale(1.7,1)">*</text>
<text transform="translate(637.3,1700.5) scale(1.7,1)">*</text>
<text transform="translate(637.3,1717.7) scale(1.7,1)">*</text>
<text transform="translate(738.0,1700.5) scale(1.7,1)">*</text>
<text transform="translate(738.0,1717.7) scale(1.7,1)">*</text>
<text transform="translate(234.3,1755.3) scale(1.7,1)">*</text>
<text transform="translate(234.3,1772.5) scale(1.7,1)">*</text>
<text transform="translate(335.1,1769.5) scale(1.7,1)">*</text>
<text transform="translate(435.8,1755.3) scale(1.7,1)">*</text>
<text transform="translate(435.8,1772.5) scale(1.7,1)">*</text>
<text transform="translate(637.3,1755.3) scale(1.7,1)">*</text>
<text transform="translate(637.3,1772.5) scale(1.7,1)">*</text>
<text transform="translate(738.0,1755.3) scale(1.7,1)">*</text>
<text transform="translate(738.0,1772.5) scale(1.7,1)">*</text>
<text transform="translate(234.3,1810.0) scale(1.7,1)">*</text>
<text transform="translate(234.3,1827.2) scale(1.7,1)">*</text>
<text transform="translate(335.1,1824.2) scale(1.7,1)">*</text>
<text transform="translate(435.8,1810.0) scale(1.7,1)">*</text>
<text transform="translate(435.8,1827.2) scale(1.7,1)">*</text>
<text transform="translate(536.5,1824.2) scale(1.7,1)">*</text>
<text transform="translate(637.3,1810.0) scale(1.7,1)">*</text>
<text transform="translate(637.3,1827.2) scale(1.7,1)">*</text>
<text transform="translate(738.0,1824.2) scale(1.7,1)">*</text>
<text transform="translate(234.3,1864.8) scale(1.7,1)">*</text>
<text transform="translate(234.3,1882.0) scale(1.7,1)">*</text>
<text transform="translate(335.1,1864.8) scale(1.7,1)">*</text>
<text transform="translate(335.1,1882.0) scale(1.7,1)">*</text>
<text transform="translate(435.8,1864.8) scale(1.7,1)">*</text>
<text transform="translate(435.8,1882.0) scale(1.7,1)">*</text>
<text transform="translate(637.3,1864.8) scale(1.7,1)">*</text>
<text transform="translate(637.3,1882.0) scale(1.7,1)">*</text>
<text transform="translate(738.0,1864.8) scale(1.7,1)">*</text>
<text transform="translate(738.0,1882.0) scale(1.7,1)">*</text>
<text transform="translate(234.3,1919.5) scale(1.7,1)">*</text>
<text transform="translate(234.3,1936.7) scale(1.7,1)">*</text>
<text transform="translate(335.1,1919.5) scale(1.7,1)">*</text>
<text transform="translate(335.1,1936.7) scale(1.7,1)">*</text>
<text transform="translate(435.8,1919.5) scale(1.7,1)">*</text>
<text transform="translate(435.8,1936.7) scale(1.7,1)">*</text>
<text transform="translate(637.3,1919.5) scale(1.7,1)">*</text>
<text transform="translate(637.3,1936.7) scale(1.7,1)">*</text>
<text transform="translate(738.0,1919.5) scale(1.7,1)">*</text>
<text transform="translate(738.0,1936.7) scale(1.7,1)">*</text>
<text transform="translate(234.3,1974.3) scale(1.7,1)">*</text>
<text transform="translate(234.3,1991.5) scale(1.7,1)">*</text>
<text transform="translate(335.1,1974.3) scale(1.7,1)">*</text>
<text transform="translate(335.1,1991.5) scale(1.7,1)">*</text>
<text transform="translate(435.8,1974.3) scale(1.7,1)">*</text>
<text transform="translate(435.8,1991.5) scale(1.7,1)">*</text>
<text transform="translate(637.3,1974.3) scale(1.7,1)">*</text>
<text transform="translate(637.3,1991.5) scale(1.7,1)">*</text>
<text transform="translate(738.0,1974.3) scale(1.7,1)">*</text>
<text transform="translate(738.0,1991.5) scale(1.7,1)">*</text>
<text transform="translate(234.3,2043.2) scale(1.7,1)">*</text>
<text transform="translate(335.1,2043.2) scale(1.7,1)">*</text>
<text transform="translate(435.8,2043.2) scale(1.7,1)">*</text>
<text transform="translate(637.3,2043.2) scale(1.7,1)">*</text>
<text transform="translate(738.0,2043.2) scale(1.7,1)">*</text>
<text transform="translate(335.1,2098.0) scale(1.7,1)">*</text>
<text transform="translate(435.8,2098.0) scale(1.7,1)">*</text>
<text transform="translate(637.3,2098.0) scale(1.7,1)">*</text>
<text transform="translate(738.0,2098.0) scale(1.7,1)">*</text>
<text transform="translate(234.3,2152.7) scale(1.7,1)">*</text>
<text transform="translate(335.1,2138.5) scale(1.7,1)">*</text>
<text transform="translate(335.1,2155.7) scale(1.7,1)">*</text>
<text transform="translate(435.8,2138.5) scale(1.7,1)">*</text>
<text transform="translate(435.8,2155.7) scale(1.7,1)">*</text>
<text transform="translate(637.3,2152.7) scale(1.7,1)">*</text>
<text transform="translate(738.0,2138.5) scale(1.7,1)">*</text>
<text transform="translate(738.0,2155.7) scale(1.7,1)">*</text>
<text transform="translate(234.3,2193.3) scale(1.7,1)">*</text>
<text transform="translate(234.3,2210.5) scale(1.7,1)">*</text>
<text transform="translate(335.1,2193.3) scale(1.7,1)">*</text>
<text transform="translate(335.1,2210.5) scale(1.7,1)">*</text>
<text transform="translate(435.8,2193.3) scale(1.7,1)">*</text>
<text transform="translate(435.8,2210.5) scale(1.7,1)">*</text>
<text transform="translate(637.3,2207.5) scale(1.7,1)">*</text>
<text transform="translate(738.0,2193.3) scale(1.7,1)">*</text>
<text transform="translate(738.0,2210.5) scale(1.7,1)">*</text>
<text transform="translate(234.3,2262.2) scale(1.7,1)">*</text>
<text transform="translate(335.1,2248.0) scale(1.7,1)">*</text>
<text transform="translate(335.1,2265.2) scale(1.7,1)">*</text>
<text transform="translate(435.8,2262.2) scale(1.7,1)">*</text>
<text transform="translate(637.3,2262.2) scale(1.7,1)">*</text>
<text transform="translate(738.0,2262.2) scale(1.7,1)">*</text>
<text transform="translate(234.3,2317.0) scale(1.7,1)">*</text>
<text transform="translate(335.1,2317.0) scale(1.7,1)">*</text>
<text transform="translate(435.8,2317.0) scale(1.7,1)">*</text>
<text transform="translate(738.0,2317.0) scale(1.7,1)">*</text>
<text transform="translate(234.3,2371.7) scale(1.7,1)">*</text>
<text transform="translate(335.1,2371.7) scale(1.7,1)">*</text>
<text transform="translate(435.8,2371.7) scale(1.7,1)">*</text>
<text transform="translate(637.3,2371.7) scale(1.7,1)">*</text>
<text transform="translate(738.0,2371.7) scale(1.7,1)">*</text>
<text transform="translate(234.3,2426.4) scale(1.7,1)">*</text>
<text transform="translate(435.8,2426.4) scale(1.7,1)">*</text>
<text transform="translate(335.1,2481.2) scale(1.7,1)">*</text>
<text transform="translate(435.8,2481.2) scale(1.7,1)">*</text>
<text transform="translate(738.0,2481.2) scale(1.7,1)">*</text>
<text transform="translate(335.1,2535.9) scale(1.7,1)">*</text>
<text transform="translate(435.8,2535.9) scale(1.7,1)">*</text>
<text transform="translate(637.3,2535.9) scale(1.7,1)">*</text>
<text transform="translate(738.0,2535.9) scale(1.7,1)">*</text>
<text transform="translate(335.1,2590.7) scale(1.7,1)">*</text>
<text transform="translate(435.8,2590.7) scale(1.7,1)">*</text>
<text transform="translate(738.0,2590.7) scale(1.7,1)">*</text>
<text transform="translate(335.1,2645.4) scale(1.7,1)">*</text>
<text transform="translate(435.8,2645.4) scale(1.7,1)">*</text>
<text transform="translate(738.0,2645.4) scale(1.7,1)">*</text>
<text transform="translate(234.3,2686.0) scale(1.7,1)">*</text>
<text transform="translate(234.3,2703.2) scale(1.7,1)">*</text>
<text transform="translate(335.1,2686.0) scale(1.7,1)">*</text>
<text transform="translate(335.1,2703.2) scale(1.7,1)">*</text>
<text transform="translate(435.8,2700.2) scale(1.7,1)">*</text>
<text transform="translate(637.3,2700.2) scale(1.7,1)">*</text>
<text transform="translate(234.3,2754.9) scale(1.7,1)">*</text>
<text transform="translate(335.1,2740.7) scale(1.7,1)">*</text>
<text transform="translate(335.1,2757.9) scale(1.7,1)">*</text>
<text transform="translate(435.8,2754.9) scale(1.7,1)">*</text>
<text transform="translate(637.3,2740.7) scale(1.7,1)">*</text>
<text transform="translate(637.3,2757.9) scale(1.7,1)">*</text>
<text transform="translate(738.0,2754.9) scale(1.7,1)">*</text>
<text transform="translate(234.3,2809.7) scale(1.7,1)">*</text>
<text transform="translate(335.1,2809.7) scale(1.7,1)">*</text>
<text transform="translate(435.8,2809.7) scale(1.7,1)">*</text>
<text transform="translate(637.3,2809.7) scale(1.7,1)">*</text>
<text transform="translate(738.0,2809.7) scale(1.7,1)">*</text>
<text transform="translate(234.3,2864.4) scale(1.7,1)">*</text>
<text transform="translate(335.1,2864.4) scale(1.7,1)">*</text>
<text transform="translate(435.8,2864.4) scale(1.7,1)">*</text>
<text transform="translate(637.3,2864.4) scale(1.7,1)">*</text>
<text transform="translate(234.3,2919.2) scale(1.7,1)">*</text>
<text transform="translate(335.1,2919.2) scale(1.7,1)">*</text>
<text transform="translate(435.8,2919.2) scale(1.7,1)">*</text>
<text transform="translate(637.3,2919.2) scale(1.7,1)">*</text>
<text transform="translate(738.0,2919.2) scale(1.7,1)">*</text>
<text transform="translate(234.3,2973.9) scale(1.7,1)">*</text>
<text transform="translate(335.1,2973.9) scale(1.7,1)">*</text>
<text transform="translate(435.8,2973.9) scale(1.7,1)">*</text>
<text transform="translate(637.3,2973.9) scale(1.7,1)">*</text>
<text transform="translate(738.0,2973.9) scale(1.7,1)">*</text>
<text transform="translate(234.3,3028.7) scale(1.7,1)">*</text>
<text transform="translate(335.1,3028.7) scale(1.7,1)">*</text>
<text transform="translate(435.8,3028.7) scale(1.7,1)">*</text>
<text transform="translate(637.3,3028.7) scale(1.7,1)">*</text>
<text transform="translate(738.0,3028.7) scale(1.7,1)">*</text>
<text transform="translate(234.3,3083.4) scale(1.7,1)">*</text>
<text transform="translate(335.1,3083.4) scale(1.7,1)">*</text>
<text transform="translate(435.8,3083.4) scale(1.7,1)">*</text>
<text transform="translate(637.3,3083.4) scale(1.7,1)">*</text>
<text transform="translate(738.0,3083.4) scale(1.7,1)">*</text>
<text transform="translate(234.3,3138.2) scale(1.7,1)">*</text>
<text transform="translate(335.1,3138.2) scale(1.7,1)">*</text>
<text transform="translate(435.8,3138.2) scale(1.7,1)">*</text>
<text transform="translate(637.3,3138.2) scale(1.7,1)">*</text>
<text transform="translate(234.3,3192.9) scale(1.7,1)">*</text>
<text transform="translate(335.1,3192.9) scale(1.7,1)">*</text>
<text transform="translate(435.8,3192.9) scale(1.7,1)">*</text>
<text transform="translate(637.3,3192.9) scale(1.7,1)">*</text>
<text transform="translate(738.0,3192.9) scale(1.7,1)">*</text>
<text transform="translate(234.3,3247.6) scale(1.7,1)">*</text>
<text transform="translate(335.1,3247.6) scale(1.7,1)">*</text>
<text transform="translate(435.8,3233.4) scale(1.7,1)">*</text>
<text transform="translate(435.8,3250.6) scale(1.7,1)">*</text>
<text transform="translate(637.3,3233.4) scale(1.7,1)">*</text>
<text transform="translate(637.3,3250.6) scale(1.7,1)">*</text>
<text transform="translate(738.0,3233.4) scale(1.7,1)">*</text>
<text transform="translate(738.0,3250.6) scale(1.7,1)">*</text>
<text transform="translate(335.1,3302.4) scale(1.7,1)">*</text>
<text transform="translate(435.8,3302.4) scale(1.7,1)">*</text>
<text transform="translate(738.0,3288.2) scale(1.7,1)">*</text>
<text transform="translate(738.0,3305.4) scale(1.7,1)">*</text>
<text transform="translate(335.1,3357.1) scale(1.7,1)">*</text>
<text transform="translate(435.8,3357.1) scale(1.7,1)">*</text>
<text transform="translate(637.3,3357.1) scale(1.7,1)">*</text>
<text transform="translate(738.0,3342.9) scale(1.7,1)">*</text>
<text transform="translate(738.0,3360.1) scale(1.7,1)">*</text>
<text transform="translate(435.8,3411.9) scale(1.7,1)">*</text>
<text transform="translate(738.0,3411.9) scale(1.7,1)">*</text>
<text transform="translate(536.5,3466.6) scale(1.7,1)">*</text>
<text transform="translate(637.3,3466.6) scale(1.7,1)">*</text>
<text transform="translate(234.3,3521.4) scale(1.7,1)">*</text>
<text transform="translate(335.1,3521.4) scale(1.7,1)">*</text>
<text transform="translate(435.8,3521.4) scale(1.7,1)">*</text>
<text transform="translate(234.3,3561.9) scale(1.7,1)">*</text>
<text transform="translate(234.3,3579.1) scale(1.7,1)">*</text>
<text transform="translate(335.1,3561.9) scale(1.7,1)">*</text>
<text transform="translate(335.1,3579.1) scale(1.7,1)">*</text>
<text transform="translate(435.8,3561.9) scale(1.7,1)">*</text>
<text transform="translate(435.8,3579.1) scale(1.7,1)">*</text>
<text transform="translate(637.3,3561.9) scale(1.7,1)">*</text>
<text transform="translate(637.3,3579.1) scale(1.7,1)">*</text>
<text transform="translate(738.0,3576.1) scale(1.7,1)">*</text>
<text transform="translate(234.3,3616.7) scale(1.7,1)">*</text>
<text transform="translate(234.3,3633.9) scale(1.7,1)">*</text>
<text transform="translate(335.1,3616.7) scale(1.7,1)">*</text>
<text transform="translate(335.1,3633.9) scale(1.7,1)">*</text>
<text transform="translate(435.8,3616.7) scale(1.7,1)">*</text>
<text transform="translate(435.8,3633.9) scale(1.7,1)">*</text>
<text transform="translate(637.3,3616.7) scale(1.7,1)">*</text>
<text transform="translate(637.3,3633.9) scale(1.7,1)">*</text>
<text transform="translate(738.0,3630.9) scale(1.7,1)">*</text>
<text transform="translate(234.3,3671.4) scale(1.7,1)">*</text>
<text transform="translate(234.3,3688.6) scale(1.7,1)">*</text>
<text transform="translate(335.1,3671.4) scale(1.7,1)">*</text>
<text transform="translate(335.1,3688.6) scale(1.7,1)">*</text>
<text transform="translate(435.8,3671.4) scale(1.7,1)">*</text>
<text transform="translate(435.8,3688.6) scale(1.7,1)">*</text>
<text transform="translate(637.3,3671.4) scale(1.7,1)">*</text>
<text transform="translate(637.3,3688.6) scale(1.7,1)">*</text>
<text transform="translate(738.0,3671.4) scale(1.7,1)">*</text>
<text transform="translate(738.0,3688.6) scale(1.7,1)">*</text>
<text transform="translate(234.3,3726.2) scale(1.7,1)">*</text>
<text transform="translate(234.3,3743.4) scale(1.7,1)">*</text>
<text transform="translate(335.1,3740.4) scale(1.7,1)">*</text>
<text transform="translate(435.8,3726.2) scale(1.7,1)">*</text>
<text transform="translate(435.8,3743.4) scale(1.7,1)">*</text>
<text transform="translate(637.3,3726.2) scale(1.7,1)">*</text>
<text transform="translate(637.3,3743.4) scale(1.7,1)">*</text>
<text transform="translate(738.0,3726.2) scale(1.7,1)">*</text>
<text transform="translate(738.0,3743.4) scale(1.7,1)">*</text>
<text transform="translate(234.3,3780.9) scale(1.7,1)">*</text>
<text transform="translate(234.3,3798.1) scale(1.7,1)">*</text>
<text transform="translate(335.1,3780.9) scale(1.7,1)">*</text>
<text transform="translate(335.1,3798.1) scale(1.7,1)">*</text>
<text transform="translate(435.8,3780.9) scale(1.7,1)">*</text>
<text transform="translate(435.8,3798.1) scale(1.7,1)">*</text>
<text transform="translate(637.3,3780.9) scale(1.7,1)">*</text>
<text transform="translate(637.3,3798.1) scale(1.7,1)">*</text>
<text transform="translate(738.0,3780.9) scale(1.7,1)">*</text>
<text transform="translate(738.0,3798.1) scale(1.7,1)">*</text>
<text transform="translate(234.3,3835.7) scale(1.7,1)">*</text>
<text transform="translate(234.3,3852.9) scale(1.7,1)">*</text>
<text transform="translate(335.1,3835.7) scale(1.7,1)">*</text>
<text transform="translate(335.1,3852.9) scale(1.7,1)">*</text>
<text transform="translate(435.8,3835.7) scale(1.7,1)">*</text>
<text transform="translate(435.8,3852.9) scale(1.7,1)">*</text>
<text transform="translate(637.3,3835.7) scale(1.7,1)">*</text>
<text transform="translate(637.3,3852.9) scale(1.7,1)">*</text>
<text transform="translate(738.0,3835.7) scale(1.7,1)">*</text>
<text transform="translate(738.0,3852.9) scale(1.7,1)">*</text>
<text transform="translate(234.3,3890.4) scale(1.7,1)">*</text>
<text transform="translate(234.3,3907.6) scale(1.7,1)">*</text>
<text transform="translate(335.1,3890.4) scale(1.7,1)">*</text>
<text transform="translate(335.1,3907.6) scale(1.7,1)">*</text>
<text transform="translate(435.8,3890.4) scale(1.7,1)">*</text>
<text transform="translate(435.8,3907.6) scale(1.7,1)">*</text>
<text transform="translate(637.3,3890.4) scale(1.7,1)">*</text>
<text transform="translate(637.3,3907.6) scale(1.7,1)">*</text>
<text transform="translate(738.0,3890.4) scale(1.7,1)">*</text>
<text transform="translate(738.0,3907.6) scale(1.7,1)">*</text>
<text transform="translate(234.3,3959.3) scale(1.7,1)">*</text>
<text transform="translate(335.1,3945.1) scale(1.7,1)">*</text>
<text transform="translate(335.1,3962.3) scale(1.7,1)">*</text>
<text transform="translate(435.8,3945.1) scale(1.7,1)">*</text>
<text transform="translate(435.8,3962.3) scale(1.7,1)">*</text>
<text transform="translate(637.3,3945.1) scale(1.7,1)">*</text>
<text transform="translate(637.3,3962.3) scale(1.7,1)">*</text>
<text transform="translate(738.0,3945.1) scale(1.7,1)">*</text>
<text transform="translate(738.0,3962.3) scale(1.7,1)">*</text>
<text transform="translate(234.3,4014.1) scale(1.7,1)">*</text>
<text transform="translate(335.1,4014.1) scale(1.7,1)">*</text>
<text transform="translate(435.8,3999.9) scale(1.7,1)">*</text>
<text transform="translate(435.8,4017.1) scale(1.7,1)">*</text>
<text transform="translate(637.3,3999.9) scale(1.7,1)">*</text>
<text transform="translate(637.3,4017.1) scale(1.7,1)">*</text>
<text transform="translate(738.0,3999.9) scale(1.7,1)">*</text>
<text transform="translate(738.0,4017.1) scale(1.7,1)">*</text>
<text transform="translate(234.3,4068.8) scale(1.7,1)">*</text>
<text transform="translate(335.1,4054.6) scale(1.7,1)">*</text>
<text transform="translate(335.1,4071.8) scale(1.7,1)">*</text>
<text transform="translate(435.8,4054.6) scale(1.7,1)">*</text>
<text transform="translate(435.8,4071.8) scale(1.7,1)">*</text>
<text transform="translate(637.3,4054.6) scale(1.7,1)">*</text>
<text transform="translate(637.3,4071.8) scale(1.7,1)">*</text>
<text transform="translate(738.0,4054.6) scale(1.7,1)">*</text>
<text transform="translate(738.0,4071.8) scale(1.7,1)">*</text>
<text transform="translate(234.3,4109.4) scale(1.7,1)">*</text>
<text transform="translate(234.3,4126.6) scale(1.7,1)">*</text>
<text transform="translate(335.1,4109.4) scale(1.7,1)">*</text>
<text transform="translate(335.1,4126.6) scale(1.7,1)">*</text>
<text transform="translate(435.8,4109.4) scale(1.7,1)">*</text>
<text transform="translate(435.8,4126.6) scale(1.7,1)">*</text>
<text transform="translate(637.3,4109.4) scale(1.7,1)">*</text>
<text transform="translate(637.3,4126.6) scale(1.7,1)">*</text>
<text transform="translate(738.0,4109.4) scale(1.7,1)">*</text>
<text transform="translate(738.0,4126.6) scale(1.7,1)">*</text>
</g>
<g font-size="46.0">
<text x="825.0" y="287.7" textLength="357.4" lengthAdjust="spacingAndGlyphs">L-Glutamine</text>
<text x="825.0" y="346.4" textLength="1224.3" lengthAdjust="spacingAndGlyphs">2-Amino-4,5-dihydro-1H-imidazole-4-acetic</text>
<text x="825.0" y="401.2" textLength="847.8" lengthAdjust="spacingAndGlyphs">Anthranilate-1-O-Sophoroside</text>
<text x="825.0" y="455.9" textLength="1640.3" lengthAdjust="spacingAndGlyphs">4-(Aminomethyl)-5-(hydroxymethyl)-2-methylpyridin-3-ol</text>
<text x="825.0" y="510.7" textLength="233.7" lengthAdjust="spacingAndGlyphs">L-Serine</text>
<text x="825.0" y="565.4" textLength="328.2" lengthAdjust="spacingAndGlyphs">L-Citrulline</text>
<text x="825.0" y="620.2" textLength="245.7" lengthAdjust="spacingAndGlyphs">L-Lysine</text>
<text x="825.0" y="674.9" textLength="381.8" lengthAdjust="spacingAndGlyphs">L-Asparagine</text>
<text x="825.0" y="729.6" textLength="655.0" lengthAdjust="spacingAndGlyphs">L-γ-Glutamyl-L-leucine</text>
<text x="825.0" y="784.4" textLength="593.1" lengthAdjust="spacingAndGlyphs">3-Methyl-L-Histidine</text>
<text x="825.0" y="839.1" textLength="336.8" lengthAdjust="spacingAndGlyphs">D-Lactulose</text>
<text x="825.0" y="893.9" textLength="511.9" lengthAdjust="spacingAndGlyphs">L-Lysine-Butanoic</text>
<text x="825.0" y="948.6" textLength="330.0" lengthAdjust="spacingAndGlyphs">Tryptamine</text>
<text x="825.0" y="1003.4" textLength="588.7" lengthAdjust="spacingAndGlyphs">2-Hydroxyadenosine</text>
<text x="825.0" y="1058.1" textLength="360.7" lengthAdjust="spacingAndGlyphs">Cycloleucine</text>
<text x="825.0" y="1112.9" textLength="240.8" lengthAdjust="spacingAndGlyphs">L-Valine</text>
<text x="825.0" y="1167.6" textLength="558.2" lengthAdjust="spacingAndGlyphs">4-Acetamidobutyric</text>
<text x="825.0" y="1222.4" textLength="902.2" lengthAdjust="spacingAndGlyphs">1-Methylpiperidine-2-carboxylic</text>
<text x="825.0" y="1277.1" textLength="852.7" lengthAdjust="spacingAndGlyphs">4-O-Methyl-DIBOA-Glucoside</text>
<text x="825.0" y="1331.9" textLength="311.4" lengthAdjust="spacingAndGlyphs">L-Pipecolic</text>
<text x="825.0" y="1386.6" textLength="289.3" lengthAdjust="spacingAndGlyphs">Pyrogallol</text>
<text x="825.0" y="1441.3" textLength="263.2" lengthAdjust="spacingAndGlyphs">Sieboldin</text>
<text x="825.0" y="1496.1" textLength="346.8" lengthAdjust="spacingAndGlyphs">L-Threonine</text>
<text x="825.0" y="1550.8" textLength="877.2" lengthAdjust="spacingAndGlyphs">N6-(2-Hydroxyethyl)adenosine</text>
<text x="825.0" y="1605.6" textLength="564.4" lengthAdjust="spacingAndGlyphs">4-Guanidinobutanal</text>
<text x="825.0" y="1660.3" textLength="822.8" lengthAdjust="spacingAndGlyphs">2-(Dimethylamino)guanosine</text>
<text x="825.0" y="1715.1" textLength="773.5" lengthAdjust="spacingAndGlyphs">2-Hydroxyethylphosphonic</text>
<text x="825.0" y="1769.8" textLength="403.9" lengthAdjust="spacingAndGlyphs">L-Homoserine</text>
<text x="825.0" y="1824.6" textLength="527.2" lengthAdjust="spacingAndGlyphs">DL-2-Aminoadipic</text>
<text x="825.0" y="1879.3" textLength="401.9" lengthAdjust="spacingAndGlyphs">D-Pantothenic</text>
<text x="825.0" y="1934.1" textLength="573.5" lengthAdjust="spacingAndGlyphs">β-Hydroxyisovaleric</text>
<text x="825.0" y="1988.8" textLength="235.3" lengthAdjust="spacingAndGlyphs">Calcium</text>
<text x="825.0" y="2043.6" textLength="308.9" lengthAdjust="spacingAndGlyphs">Cytarabine</text>
<text x="825.0" y="2098.3" textLength="532.0" lengthAdjust="spacingAndGlyphs">N6-Acetyl-L-lysine</text>
<text x="825.0" y="2153.1" textLength="1363.6" lengthAdjust="spacingAndGlyphs">2-Hydroxy-7-methoxy-1,4-benzoxazin-3(2H)-one</text>
<text x="825.0" y="2207.8" textLength="590.4" lengthAdjust="spacingAndGlyphs">6&#x27;-O-Sinapoylsucrose</text>
<text x="825.0" y="2257.5" textLength="453.7" lengthAdjust="spacingAndGlyphs">γ-Aminobutyric</text>
<text x="825.0" y="2317.1" textLength="370.7" lengthAdjust="spacingAndGlyphs">1-O-Glucosyl</text>
<text x="825.0" y="2371.6" textLength="308.5" lengthAdjust="spacingAndGlyphs">D-Fructose</text>
<text x="825.0" y="2426.1" textLength="294.4" lengthAdjust="spacingAndGlyphs">D-Glucose</text>
<text x="825.0" y="2480.7" textLength="381.9" lengthAdjust="spacingAndGlyphs">Eicosadienoic</text>
<text x="825.0" y="2535.2" textLength="475.0" lengthAdjust="spacingAndGlyphs">2-Methylsuccinic</text>
<text x="825.0" y="2589.7" textLength="218.5" lengthAdjust="spacingAndGlyphs">LysoPC</text>
<text x="825.0" y="2644.3" textLength="529.2" lengthAdjust="spacingAndGlyphs">L-Prolyl-L-Leucine</text>
<text x="825.0" y="2698.8" textLength="195.5" lengthAdjust="spacingAndGlyphs">Caffeic</text>
<text x="825.0" y="2753.3" textLength="475.5" lengthAdjust="spacingAndGlyphs">2-Isopropylmalic</text>
<text x="825.0" y="2807.9" textLength="403.1" lengthAdjust="spacingAndGlyphs">Pentadecanoic</text>
<text x="825.0" y="2862.4" textLength="581.9" lengthAdjust="spacingAndGlyphs">Methoxyindoleacetic</text>
<text x="825.0" y="2916.9" textLength="800.6" lengthAdjust="spacingAndGlyphs">Tricin-7-O-neohesperidoside</text>
<text x="825.0" y="2971.5" textLength="691.6" lengthAdjust="spacingAndGlyphs">L-Azetidine-2-carboxylic</text>
<text x="825.0" y="3026.0" textLength="508.0" lengthAdjust="spacingAndGlyphs">13-methylmyristic</text>
<text x="825.0" y="3080.5" textLength="232.0" lengthAdjust="spacingAndGlyphs">Myristic</text>
<text x="825.0" y="3135.1" textLength="746.6" lengthAdjust="spacingAndGlyphs">N-Monomethyl-L-arginine</text>
<text x="825.0" y="3189.6" textLength="352.4" lengthAdjust="spacingAndGlyphs">Terephthalic</text>
<text x="825.0" y="3244.1" textLength="589.0" lengthAdjust="spacingAndGlyphs">Tricin-5-O-Glucoside</text>
<text x="825.0" y="3298.7" textLength="929.1" lengthAdjust="spacingAndGlyphs">2,6-Dimethoxy-1,4-benzoquinone</text>
<text x="825.0" y="3353.2" textLength="560.1" lengthAdjust="spacingAndGlyphs">N-Acetylcadaverine</text>
<text x="825.0" y="3407.7" textLength="239.6" lengthAdjust="spacingAndGlyphs">Valproic</text>
<text x="825.0" y="3462.2" textLength="562.1" lengthAdjust="spacingAndGlyphs">Tricin-7-O-saccharic</text>
<text x="825.0" y="3516.8" textLength="554.0" lengthAdjust="spacingAndGlyphs">L-Homomethionine</text>
<text x="825.0" y="3571.3" textLength="1145.7" lengthAdjust="spacingAndGlyphs">5&#x27;-Methoxyisolariciresinol-9&#x27;-O-glucoside</text>
<text x="825.0" y="3621.8" textLength="193.7" lengthAdjust="spacingAndGlyphs">Ferulic</text>
<text x="825.0" y="3680.4" textLength="172.8" lengthAdjust="spacingAndGlyphs">Mucic</text>
<text x="825.0" y="3734.9" textLength="606.0" lengthAdjust="spacingAndGlyphs">3-Phospho-D-glyceric</text>
<text x="825.0" y="3789.4" textLength="552.4" lengthAdjust="spacingAndGlyphs">4-Guanidinobutyric</text>
<text x="825.0" y="3844.0" textLength="553.7" lengthAdjust="spacingAndGlyphs">(S)-2-Phenyloxirane</text>
<text x="825.0" y="3898.5" textLength="277.7" lengthAdjust="spacingAndGlyphs">Agmatine</text>
<text x="825.0" y="3953.0" textLength="897.8" lengthAdjust="spacingAndGlyphs">Apigenin-7-O-neohesperidoside</text>
<text x="825.0" y="4007.6" textLength="546.1" lengthAdjust="spacingAndGlyphs">N-Acetylputrescine</text>
<text x="825.0" y="4062.1" textLength="381.4" lengthAdjust="spacingAndGlyphs">L-Methionine</text>
<text x="825.0" y="4116.6" textLength="206.8" lengthAdjust="spacingAndGlyphs">Betaine</text>
</g>
<g class="cl" font-size="46.0">
<text transform="translate(250.2,234.5) scale(1.44,1) rotate(-45)" textLength="273.7" lengthAdjust="spacingAndGlyphs">Os01g0580300</text>
<text transform="translate(350.9,234.5) scale(1.44,1) rotate(-45)" textLength="273.7" lengthAdjust="spacingAndGlyphs">Os01g0589000</text>
<text transform="translate(451.7,234.5) scale(1.44,1) rotate(-45)" textLength="273.7" lengthAdjust="spacingAndGlyphs">Os12g0102100</text>
<text transform="translate(552.4,234.5) scale(1.44,1) rotate(-45)" textLength="273.7" lengthAdjust="spacingAndGlyphs">Os01g0600900</text>
<text transform="translate(653.2,234.5) scale(1.44,1) rotate(-45)" textLength="273.7" lengthAdjust="spacingAndGlyphs">Os01g0580500</text>
<text transform="translate(753.9,234.5) scale(1.44,1) rotate(-45)" textLength="273.7" lengthAdjust="spacingAndGlyphs">Os01g0591000</text>
</g>
<defs><linearGradient id="lg" x1="0" y1="1" x2="0" y2="0">
<stop offset="0.0000" stop-color="#4575b4"/>
<stop offset="0.1667" stop-color="#91bfdb"/>
<stop offset="0.3333" stop-color="#e0f3f8"/>
<stop offset="0.5000" stop-color="#ffffbf"/>
<stop offset="0.6667" stop-color="#fee090"/>
<stop offset="0.8333" stop-color="#fc8d59"/>
<stop offset="1.0000" stop-color="#d73027"/>
</linearGradient></defs>
<rect x="2165.5" y="659.5" width="35.5" height="369.5" fill="url(#lg)"/>
<g font-size="46.0">
<text x="2216" y="762.2" textLength="78.6" lengthAdjust="spacingAndGlyphs">0.5</text>
<text x="2216" y="854.5" textLength="31.4" lengthAdjust="spacingAndGlyphs">0</text>
<text x="2216" y="946.0" textLength="99.6" lengthAdjust="spacingAndGlyphs">-0.5</text>
</g>
<g class="d">
<polyline points="356.9,4140.0 356.9,4141.0 457.7,4141.0 457.7,4140.0"/>
<polyline points="256.2,4140.0 256.2,4142.0 407.3,4142.0 407.3,4141.0"/>
<polyline points="659.2,4140.0 659.2,4142.0 759.9,4142.0 759.9,4140.0"/>
<polyline points="558.4,4140.0 558.4,4157.0 709.5,4157.0 709.5,4142.0"/>
<polyline points="331.7,4142.0 331.7,4265.5 634.0,4265.5 634.0,4157.0"/>
</g>
<g class="d" style="stroke-width:3.8;stroke:#151515">
<polyline points="204.8,332.1 203.0,332.1 203.0,386.9 204.8,386.9"/>
<polyline points="204.8,441.6 203.0,441.6 203.0,496.4 204.8,496.4"/>
<polyline points="203.0,359.5 200.5,359.5 200.5,469.0 203.0,469.0"/>
<polyline points="204.8,277.4 198.0,277.4 198.0,414.2 200.5,414.2"/>
<polyline points="204.8,551.1 201.5,551.1 201.5,605.9 204.8,605.9"/>
<polyline points="201.5,578.5 199.0,578.5 199.0,660.6 204.8,660.6"/>
<polyline points="198.0,428.0 192.0,428.0 192.0,619.6 199.0,619.6"/>
<polyline points="204.8,715.3 203.3,715.3 203.3,770.1 204.8,770.1"/>
<polyline points="203.3,742.7 201.5,742.7 201.5,824.8 204.8,824.8"/>
<polyline points="204.8,934.3 203.3,934.3 203.3,989.1 204.8,989.1"/>
<polyline points="204.8,879.6 201.5,879.6 201.5,961.7 203.3,961.7"/>
<polyline points="201.5,783.8 199.0,783.8 199.0,920.6 201.5,920.6"/>
<polyline points="204.8,1098.6 203.3,1098.6 203.3,1153.3 204.8,1153.3"/>
<polyline points="204.8,1043.8 201.5,1043.8 201.5,1125.9 203.3,1125.9"/>
<polyline points="204.8,1262.8 203.3,1262.8 203.3,1317.6 204.8,1317.6"/>
<polyline points="204.8,1208.1 201.5,1208.1 201.5,1290.2 203.3,1290.2"/>
<polyline points="201.5,1084.9 199.0,1084.9 199.0,1249.1 201.5,1249.1"/>
<polyline points="199.0,852.2 196.5,852.2 196.5,1167.0 199.0,1167.0"/>
<polyline points="204.8,1427.0 203.3,1427.0 203.3,1481.8 204.8,1481.8"/>
<polyline points="204.8,1372.3 201.5,1372.3 201.5,1454.4 203.3,1454.4"/>
<polyline points="204.8,1591.3 203.3,1591.3 203.3,1646.0 204.8,1646.0"/>
<polyline points="204.8,1536.5 201.5,1536.5 201.5,1618.7 203.3,1618.7"/>
<polyline points="201.5,1413.4 199.0,1413.4 199.0,1577.6 201.5,1577.6"/>
<polyline points="204.8,1700.8 201.5,1700.8 201.5,1755.5 204.8,1755.5"/>
<polyline points="204.8,1810.3 203.3,1810.3 203.3,1865.0 204.8,1865.0"/>
<polyline points="204.8,1919.8 203.3,1919.8 203.3,1974.5 204.8,1974.5"/>
<polyline points="203.3,1837.6 201.5,1837.6 201.5,1947.1 203.3,1947.1"/>
<polyline points="201.5,1728.2 199.0,1728.2 199.0,1892.4 201.5,1892.4"/>
<polyline points="199.0,1495.5 196.5,1495.5 196.5,1810.3 199.0,1810.3"/>
<polyline points="196.5,1009.6 194.0,1009.6 194.0,1652.9 196.5,1652.9"/>
<polyline points="192.0,523.8 188.2,523.8 188.2,1470.0 194.0,1470.0"/>
<polyline points="204.8,2029.3 202.0,2029.3 202.0,2084.0 204.8,2084.0"/>
<polyline points="204.8,2138.8 202.0,2138.8 202.0,2193.5 204.8,2193.5"/>
<polyline points="202.0,2056.6 199.5,2056.6 199.5,2166.1 202.0,2166.1"/>
<polyline points="204.8,2248.2 202.0,2248.2 202.0,2303.0 204.8,2303.0"/>
<polyline points="204.8,2357.7 202.0,2357.7 202.0,2412.5 204.8,2412.5"/>
<polyline points="202.0,2275.6 199.5,2275.6 199.5,2385.1 202.0,2385.1"/>
<polyline points="199.5,2111.4 197.0,2111.4 197.0,2330.4 199.5,2330.4"/>
<polyline points="204.8,2467.2 200.8,2467.2 200.8,2522.0 204.8,2522.0"/>
<polyline points="204.8,2576.7 200.8,2576.7 200.8,2631.5 204.8,2631.5"/>
<polyline points="200.8,2494.6 198.3,2494.6 198.3,2604.1 200.8,2604.1"/>
<polyline points="197.0,2265.7 191.9,2265.7 191.9,2549.5 198.3,2549.5"/>
<polyline points="188.2,1002.0 179.3,1002.0 179.3,2407.6 191.9,2407.6"/>
<polyline points="204.8,2686.2 203.3,2686.2 203.3,2741.0 204.8,2741.0"/>
<polyline points="204.8,2850.5 203.3,2850.5 203.3,2905.2 204.8,2905.2"/>
<polyline points="204.8,2795.7 203.3,2795.7 203.3,2877.8 203.3,2877.8"/>
<polyline points="203.3,2713.6 201.5,2713.6 201.5,2836.8 203.3,2836.8"/>
<polyline points="204.8,2960.0 203.3,2960.0 203.3,3014.7 204.8,3014.7"/>
<polyline points="204.8,3069.4 203.3,3069.4 203.3,3124.2 204.8,3124.2"/>
<polyline points="203.3,2987.3 203.3,2987.3 203.3,3096.8 203.3,3096.8"/>
<polyline points="204.8,3178.9 203.3,3178.9 203.3,3233.7 204.8,3233.7"/>
<polyline points="203.3,3042.1 201.5,3042.1 201.5,3206.3 203.3,3206.3"/>
<polyline points="201.5,2775.2 199.0,2775.2 199.0,3124.2 201.5,3124.2"/>
<polyline points="204.8,3288.4 200.7,3288.4 200.7,3343.2 204.8,3343.2"/>
<polyline points="194.7,3021.0 194.7,3199.0"/>
<polyline points="194.7,3021.0 199.0,3021.0"/>
<polyline points="194.7,3195.0 191.9,3195.0 191.9,3438.5 204.8,3438.5"/>
<polyline points="191.9,3313.0 188.6,3313.0 188.6,3507.4 204.8,3507.4"/>
<polyline points="204.8,3562.2 203.3,3562.2 203.3,3616.9 204.8,3616.9"/>
<polyline points="204.8,3671.7 203.3,3671.7 203.3,3726.4 204.8,3726.4"/>
<polyline points="203.3,3699.0 203.3,3699.0 203.3,3781.1 204.8,3781.1"/>
<polyline points="203.3,3589.5 203.3,3589.5 203.3,3740.1 203.3,3740.1"/>
<polyline points="204.8,3835.9 203.3,3835.9 203.3,3890.6 204.8,3890.6"/>
<polyline points="203.3,3863.3 203.3,3863.3 203.3,3945.4 204.8,3945.4"/>
<polyline points="204.8,4054.9 203.3,4054.9 203.3,4109.6 204.8,4109.6"/>
<polyline points="204.8,4000.1 203.3,4000.1 203.3,4082.3 203.3,4082.3"/>
<polyline points="203.3,3904.3 203.3,3904.3 203.3,4041.2 203.3,4041.2"/>
<polyline points="203.3,3664.8 201.5,3664.8 201.5,3972.8 203.3,3972.8"/>
<polyline points="188.6,3414.0 185.4,3414.0 185.4,3884.0 201.5,3884.0"/>
<polyline points="179.3,1704.3 23.5,1704.3 23.5,3650.0 185.4,3650.0"/>
</g>
</g>
</svg></body></html>
